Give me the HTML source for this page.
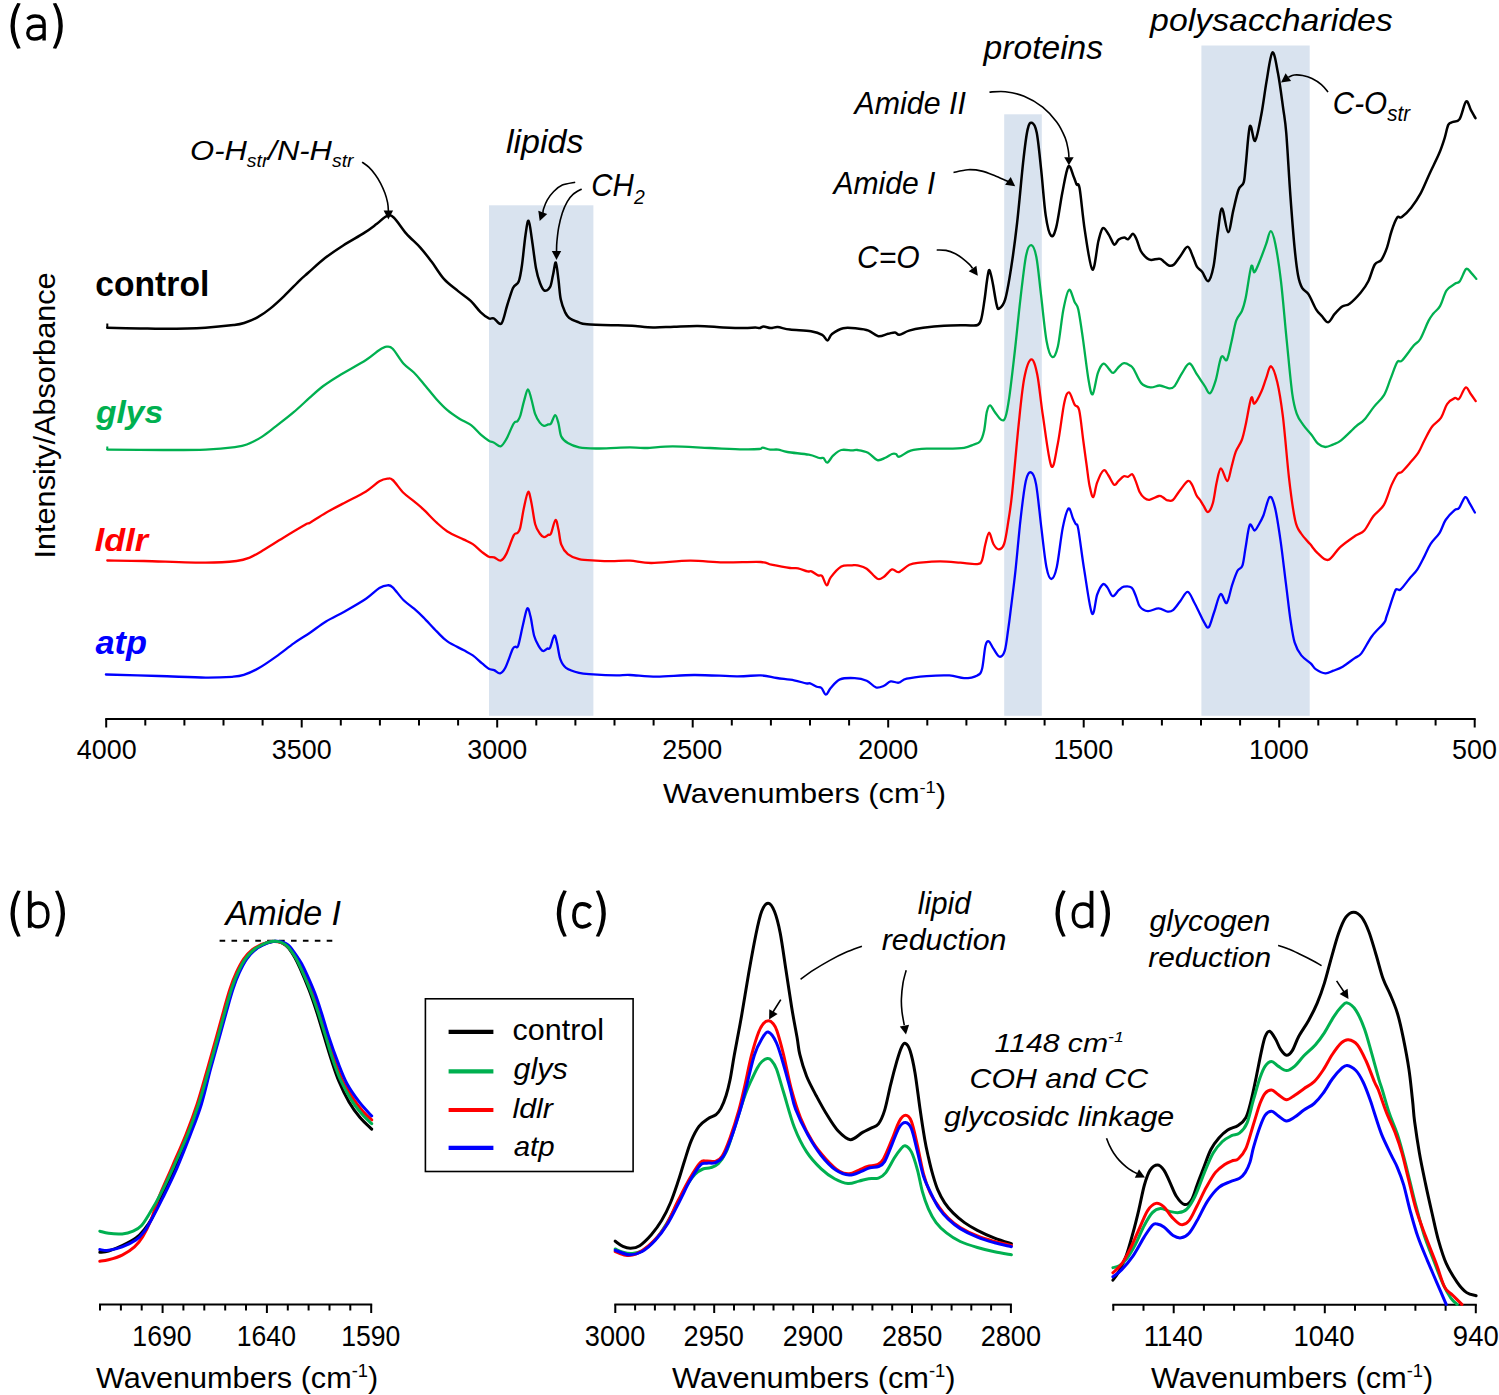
<!DOCTYPE html>
<html><head><meta charset="utf-8"><style>
html,body{margin:0;padding:0;background:#fff;overflow:hidden;}
svg{display:block;}
text{font-family:"Liberation Sans",sans-serif;}
</style></head><body>
<svg width="1499" height="1395" viewBox="0 0 1499 1395">
<rect width="1499" height="1395" fill="#fff"/>
<rect x="489" y="205.3" width="104.4" height="510.5" fill="#d9e3ef"/>
<rect x="1004.2" y="114.3" width="37.6" height="601.5" fill="#d9e3ef"/>
<rect x="1201.4" y="45.5" width="108.3" height="670.3" fill="#d9e3ef"/>
<path d="M105.2,719.0 H1475.7" stroke="#000" stroke-width="2.0" fill="none"/>
<path d="M106.2,719.0 V727.5M145.3,719.0 V725.5M184.4,719.0 V725.5M223.5,719.0 V725.5M262.6,719.0 V725.5M301.7,719.0 V727.5M340.8,719.0 V725.5M379.9,719.0 V725.5M419.0,719.0 V725.5M458.1,719.0 V725.5M497.2,719.0 V727.5M536.3,719.0 V725.5M575.4,719.0 V725.5M614.5,719.0 V725.5M653.6,719.0 V725.5M692.7,719.0 V727.5M731.8,719.0 V725.5M770.9,719.0 V725.5M810.0,719.0 V725.5M849.1,719.0 V725.5M888.2,719.0 V727.5M927.3,719.0 V725.5M966.4,719.0 V725.5M1005.5,719.0 V725.5M1044.6,719.0 V725.5M1083.7,719.0 V727.5M1122.8,719.0 V725.5M1161.9,719.0 V725.5M1201.0,719.0 V725.5M1240.1,719.0 V725.5M1279.2,719.0 V727.5M1318.3,719.0 V725.5M1357.4,719.0 V725.5M1396.5,719.0 V725.5M1435.6,719.0 V725.5M1474.7,719.0 V727.5" stroke="#000" stroke-width="2.0" fill="none"/>
<path d="M99.0,1304.6 H372.2" stroke="#000" stroke-width="2.0" fill="none"/>
<path d="M100.0,1304.6 V1310.6M120.9,1304.6 V1310.6M141.7,1304.6 V1310.6M162.6,1304.6 V1313.1M183.4,1304.6 V1310.6M204.3,1304.6 V1310.6M225.2,1304.6 V1310.6M246.0,1304.6 V1310.6M266.9,1304.6 V1313.1M287.8,1304.6 V1310.6M308.6,1304.6 V1310.6M329.5,1304.6 V1310.6M350.3,1304.6 V1310.6M371.2,1304.6 V1313.1" stroke="#000" stroke-width="2.0" fill="none"/>
<path d="M219.6,940.8 H334" stroke="#000" stroke-width="2" stroke-dasharray="5.6 6.3" fill="none"/>
<path d="M614.3,1304.6 H1011.9" stroke="#000" stroke-width="2.0" fill="none"/>
<path d="M615.3,1304.6 V1313.1M635.1,1304.6 V1310.6M654.9,1304.6 V1310.6M674.6,1304.6 V1310.6M694.4,1304.6 V1310.6M714.2,1304.6 V1313.1M734.0,1304.6 V1310.6M753.8,1304.6 V1310.6M773.5,1304.6 V1310.6M793.3,1304.6 V1310.6M813.1,1304.6 V1313.1M832.9,1304.6 V1310.6M852.7,1304.6 V1310.6M872.4,1304.6 V1310.6M892.2,1304.6 V1310.6M912.0,1304.6 V1313.1M931.8,1304.6 V1310.6M951.6,1304.6 V1310.6M971.3,1304.6 V1310.6M991.1,1304.6 V1310.6M1010.9,1304.6 V1313.1" stroke="#000" stroke-width="2.0" fill="none"/>
<rect x="425.4" y="998.8" width="207.7" height="172.7" fill="#fff" stroke="#000" stroke-width="1.6"/>
<path d="M448.6,1031.8 H493.4" stroke="#000000" stroke-width="4.2"/>
<path d="M448.6,1071.4 H493.4" stroke="#00b050" stroke-width="4.2"/>
<path d="M448.6,1110.0 H493.4" stroke="#ff0000" stroke-width="4.2"/>
<path d="M448.6,1147.8 H493.4" stroke="#0000ff" stroke-width="4.2"/>
<path d="M1112.3,1304.8 H1476.8" stroke="#000" stroke-width="2.0" fill="none"/>
<path d="M1113.3,1304.8 V1310.8M1143.5,1304.8 V1310.8M1173.7,1304.8 V1313.3M1203.9,1304.8 V1310.8M1234.1,1304.8 V1310.8M1264.3,1304.8 V1310.8M1294.5,1304.8 V1310.8M1324.8,1304.8 V1313.3M1355.0,1304.8 V1310.8M1385.2,1304.8 V1310.8M1415.4,1304.8 V1310.8M1445.6,1304.8 V1310.8M1475.8,1304.8 V1313.3" stroke="#000" stroke-width="2.0" fill="none"/>
<path d="M107.3,323.5 V328" stroke="#000" stroke-width="2"/>
<path d="M107.3,327.8C112.8,327.9 130.3,328.2 140.0,328.4C149.7,328.6 154.5,328.9 165.4,328.8C176.3,328.7 194.1,328.3 205.4,327.7C216.7,327.1 227.0,325.9 233.4,325.1C239.8,324.3 240.1,324.3 244.1,323.0C248.1,321.7 252.9,319.9 257.4,317.4C261.8,314.9 266.4,311.7 270.8,308.1C275.2,304.6 279.2,300.8 284.1,296.1C289.0,291.4 296.0,284.0 300.0,280.1C304.0,276.2 304.0,276.5 308.2,272.8C312.4,269.1 319.2,262.7 325.0,258.1C330.8,253.6 336.7,249.7 343.2,245.5C349.7,241.3 358.6,236.5 364.2,232.9C369.8,229.3 373.1,226.6 376.9,223.8C380.6,221.0 383.9,217.2 386.7,216.1C389.5,215.0 390.4,214.6 393.7,217.5C397.0,220.4 401.9,228.6 406.3,233.6C410.7,238.6 416.1,242.9 420.3,247.6C424.5,252.3 427.5,256.3 431.5,261.6C435.5,266.9 439.7,274.3 444.1,279.2C448.5,284.1 453.7,287.5 458.1,291.1C462.5,294.7 467.0,297.4 470.7,300.9C474.4,304.4 477.5,309.2 480.5,312.1C483.5,315.0 486.7,317.3 488.9,318.4C491.1,319.4 491.7,317.5 493.8,318.4C495.9,319.2 499.2,325.6 501.4,323.5C503.6,321.4 505.1,311.9 507.0,306.0C508.9,300.1 511.1,292.1 513.0,288.0C515.0,283.9 517.2,285.3 518.7,281.5C520.2,277.7 520.9,272.8 522.0,265.0C523.1,257.2 524.4,242.4 525.5,235.0C526.6,227.6 527.5,220.0 528.6,220.8C529.7,221.6 530.8,232.1 532.0,240.0C533.2,247.9 534.7,261.1 536.0,268.3C537.3,275.5 538.6,279.3 540.0,283.0C541.4,286.7 542.6,289.8 544.3,290.5C546.0,291.2 548.5,289.8 550.0,287.2C551.5,284.6 552.0,279.1 553.0,275.0C554.0,270.9 554.9,261.7 555.8,262.5C556.7,263.3 557.7,273.8 558.5,280.0C559.3,286.2 559.7,294.3 560.8,299.6C561.9,304.9 563.6,309.0 565.0,312.0C566.4,315.0 566.8,316.0 569.0,317.7C571.2,319.4 575.0,320.9 578.0,322.0C581.0,323.1 580.3,323.8 587.0,324.3C593.7,324.9 610.5,325.1 618.0,325.3C625.5,325.5 626.2,325.4 632.0,325.7C637.8,326.0 646.0,327.2 653.0,327.4C660.0,327.6 666.5,326.9 674.0,326.7C681.5,326.4 689.7,325.8 697.9,325.9C706.1,326.0 715.4,327.0 723.1,327.4C730.8,327.8 738.7,328.1 744.1,328.1C749.5,328.1 752.7,327.5 755.3,327.5C757.9,327.5 758.1,328.3 759.5,328.1C760.9,327.9 761.8,326.4 763.7,326.4C765.6,326.4 768.4,328.0 770.7,328.1C773.0,328.2 774.5,326.9 777.7,327.1C780.9,327.4 784.5,328.9 790.0,329.6C795.5,330.3 805.6,330.4 811.0,331.3C816.4,332.2 819.5,333.3 822.2,334.8C825.0,336.3 825.9,340.5 827.5,340.4C829.1,340.3 829.4,336.1 832.0,334.1C834.6,332.1 839.0,329.1 843.2,328.2C847.4,327.3 853.0,328.1 857.2,328.5C861.4,328.9 865.0,329.3 868.5,330.6C872.0,331.9 875.0,335.7 878.3,336.2C881.6,336.7 885.3,334.4 888.1,333.8C890.9,333.2 893.2,332.2 895.1,332.4C897.0,332.6 897.0,335.1 899.3,334.8C901.6,334.5 905.1,331.8 909.1,330.6C913.1,329.4 917.3,328.6 923.1,327.8C928.9,327.0 937.1,326.1 944.1,325.7C951.1,325.3 959.5,325.3 965.1,325.2C970.7,325.1 975.0,326.2 977.7,325.0C980.4,323.8 980.4,322.2 981.5,318.0C982.6,313.8 983.6,306.0 984.5,300.0C985.4,294.0 986.1,286.9 986.8,282.0C987.5,277.1 988.2,271.5 988.9,270.3C989.6,269.1 990.3,272.6 991.0,275.0C991.7,277.4 992.2,280.1 993.1,285.0C994.0,289.9 995.6,300.7 996.6,304.6C997.6,308.6 997.6,309.5 999.0,308.7C1000.4,307.9 1003.1,306.5 1005.1,299.7C1007.1,292.9 1009.1,280.9 1011.1,268.1C1013.1,255.3 1015.1,240.5 1017.1,222.9C1019.1,205.3 1021.4,178.2 1023.1,162.7C1024.8,147.1 1026.1,136.2 1027.6,129.6C1029.0,122.9 1030.3,122.3 1031.8,122.8C1033.3,123.3 1035.1,124.7 1036.7,132.6C1038.3,140.5 1039.7,156.4 1041.2,170.2C1042.7,184.0 1044.1,204.5 1045.7,215.4C1047.3,226.3 1049.2,233.7 1051.0,235.7C1052.8,237.7 1054.3,234.6 1056.2,227.4C1058.1,220.2 1060.3,203.0 1062.3,192.8C1064.3,182.7 1066.4,169.3 1068.3,166.5C1070.2,163.7 1072.1,173.2 1073.5,176.2C1074.9,179.2 1075.6,182.5 1076.6,184.5C1077.6,186.5 1078.2,180.7 1079.6,188.3C1081.0,196.0 1082.7,216.8 1084.8,230.4C1086.9,244.0 1090.1,267.8 1092.4,269.6C1094.7,271.4 1096.7,247.9 1098.4,241.0C1100.2,234.1 1101.2,229.2 1102.9,228.2C1104.7,227.2 1107.0,232.2 1108.9,234.9C1110.8,237.7 1112.6,243.9 1114.2,244.7C1115.8,245.5 1117.0,240.7 1118.7,239.5C1120.4,238.3 1122.6,237.6 1124.2,237.5C1125.8,237.4 1126.8,239.7 1128.3,239.1C1129.8,238.5 1131.5,233.6 1132.9,233.7C1134.3,233.8 1135.3,236.6 1136.6,239.5C1137.9,242.4 1139.1,247.9 1140.8,251.0C1142.5,254.1 1145.3,256.8 1147.0,258.3C1148.7,259.8 1149.1,259.8 1151.2,259.9C1153.3,260.0 1157.4,258.4 1159.5,258.7C1161.6,258.9 1162.0,260.3 1163.6,261.4C1165.1,262.5 1167.1,265.0 1168.8,265.5C1170.5,266.0 1172.1,266.1 1174.0,264.5C1175.9,262.9 1178.0,259.1 1180.3,256.2C1182.6,253.2 1185.5,246.8 1187.6,246.8C1189.7,246.8 1191.2,252.9 1192.7,256.2C1194.2,259.5 1195.3,264.0 1196.9,266.6C1198.5,269.2 1200.2,269.4 1202.1,271.8C1204.0,274.2 1206.4,282.0 1208.3,281.1C1210.2,280.2 1211.9,274.6 1213.5,266.6C1215.1,258.6 1216.3,243.0 1217.7,233.3C1219.1,223.6 1220.2,208.6 1221.9,208.4C1223.6,208.2 1226.2,232.0 1228.1,232.3C1230.0,232.6 1231.6,217.5 1233.3,210.4C1235.0,203.3 1236.8,194.4 1238.5,189.7C1240.2,185.0 1242.5,186.6 1243.7,182.4C1244.9,178.2 1244.8,174.0 1245.8,164.7C1246.8,155.3 1248.4,130.3 1249.9,126.3C1251.5,122.3 1253.2,142.7 1255.1,140.8C1257.0,138.9 1259.4,124.7 1261.3,114.8C1263.2,104.9 1264.7,92.0 1266.5,81.6C1268.3,71.2 1270.5,53.9 1272.4,52.5C1274.3,51.1 1276.2,64.0 1278.0,73.3C1279.8,82.6 1281.8,98.6 1283.2,108.6C1284.6,118.6 1285.1,119.0 1286.3,133.5C1287.5,148.1 1289.0,176.8 1290.4,195.9C1291.8,215.0 1293.3,234.7 1294.6,247.9C1295.9,261.1 1296.8,268.4 1298.0,275.0C1299.2,281.6 1300.3,284.6 1302.1,287.8C1303.9,291.0 1306.3,290.8 1308.6,294.4C1310.9,298.0 1313.9,305.7 1316.1,309.3C1318.3,312.9 1319.7,313.6 1321.7,315.8C1323.7,318.0 1326.0,322.6 1328.2,322.3C1330.4,322.0 1332.4,316.5 1334.7,313.9C1337.0,311.3 1339.7,308.2 1342.2,306.5C1344.7,304.8 1346.5,306.0 1349.6,303.7C1352.7,301.4 1357.7,296.2 1360.8,292.5C1363.9,288.8 1366.0,286.0 1368.3,281.3C1370.6,276.6 1372.6,268.1 1374.8,264.5C1377.0,260.9 1379.3,262.7 1381.3,259.9C1383.3,257.1 1385.2,252.6 1386.9,247.8C1388.6,243.0 1389.9,236.0 1391.6,231.0C1393.3,226.0 1395.5,219.9 1397.2,217.6C1398.9,215.3 1399.5,218.7 1401.8,217.0C1404.1,215.3 1408.1,211.6 1411.2,207.7C1414.3,203.8 1417.4,199.4 1420.5,193.7C1423.6,187.9 1426.7,179.9 1429.8,173.2C1432.9,166.5 1436.6,159.5 1439.1,153.6C1441.6,147.7 1443.2,142.6 1444.7,137.8C1446.2,133.0 1447.0,127.4 1448.4,124.7C1449.8,122.0 1451.2,122.8 1453.1,121.9C1455.0,121.0 1457.4,122.5 1459.6,119.1C1461.8,115.7 1464.2,103.0 1466.1,101.4C1468.0,99.9 1469.2,107.0 1470.8,109.8C1472.4,112.6 1474.7,116.8 1475.5,118.2" stroke="#000000" stroke-width="2.50" fill="none" stroke-linejoin="round" stroke-linecap="round"/>
<path d="M107.3,446.5 V450" stroke="#00b050" stroke-width="2"/>
<path d="M107.3,449.6C116.6,449.7 146.7,450.0 163.1,450.0C179.5,450.0 193.7,450.1 205.7,449.6C217.7,449.1 228.2,448.0 235.0,447.1C241.8,446.2 242.4,446.2 246.8,444.5C251.2,442.8 256.5,440.2 261.4,437.1C266.3,434.0 270.7,430.2 276.1,426.1C281.5,422.0 288.1,417.0 293.7,412.2C299.3,407.4 305.1,401.8 310.0,397.4C314.9,393.0 318.4,389.7 323.3,386.0C328.2,382.3 332.3,379.7 339.4,375.4C346.5,371.1 359.3,364.2 366.0,360.0C372.7,355.8 375.9,352.2 379.4,350.0C382.8,347.8 384.5,346.9 386.7,346.7C388.9,346.5 389.9,345.9 392.7,348.7C395.5,351.5 399.8,359.4 403.4,363.4C407.0,367.4 410.8,369.4 414.1,372.7C417.4,376.0 419.6,378.9 423.4,383.4C427.2,387.8 432.7,394.9 436.7,399.4C440.7,403.8 443.6,406.9 447.4,410.1C451.2,413.3 455.4,416.1 459.4,418.7C463.4,421.2 467.8,422.7 471.4,425.4C475.0,428.1 477.9,432.1 480.8,434.7C483.7,437.2 486.6,439.4 488.8,440.7C491.0,442.0 492.1,441.8 494.1,442.7C496.1,443.6 498.6,446.9 500.6,446.4C502.6,445.8 504.0,443.2 506.2,439.4C508.4,435.6 511.8,426.5 513.7,423.5C515.6,420.5 516.3,422.4 517.4,421.2C518.5,419.9 519.1,419.4 520.2,416.0C521.3,412.6 522.7,405.5 524.0,401.1C525.3,396.7 526.7,389.7 527.9,389.4C529.1,389.1 530.2,395.1 531.4,399.2C532.6,403.3 533.8,410.3 535.2,414.2C536.6,418.1 538.3,420.7 539.8,422.6C541.3,424.5 542.6,425.5 544.0,425.8C545.4,426.1 547.0,424.8 548.2,424.4C549.4,424.0 549.8,425.1 551.0,423.5C552.2,421.9 554.0,415.1 555.2,415.1C556.5,415.1 557.5,419.9 558.5,423.5C559.5,427.1 559.8,433.3 561.3,436.6C562.8,439.9 564.8,441.3 567.8,443.1C570.8,444.9 574.4,446.4 579.1,447.3C583.8,448.2 589.7,448.4 595.9,448.5C602.1,448.6 610.7,448.0 616.4,447.8C622.1,447.6 625.1,447.4 630.0,447.4C634.9,447.4 638.9,448.2 646.0,448.0C653.1,447.8 662.0,446.3 672.7,446.3C683.4,446.3 698.2,447.5 710.0,448.0C721.8,448.5 735.2,449.2 743.4,449.4C751.6,449.6 756.2,449.3 759.4,449.0C762.6,448.7 761.0,447.5 762.8,447.6C764.6,447.7 767.5,449.3 770.1,449.6C772.7,449.9 775.2,449.2 778.1,449.6C781.0,450.0 782.3,451.1 787.4,452.0C792.5,452.9 803.4,453.7 808.8,454.7C814.1,455.7 817.0,457.4 819.5,458.0C822.0,458.6 822.2,457.2 823.5,458.0C824.8,458.8 825.7,463.1 827.3,462.7C828.9,462.3 831.0,457.5 833.3,455.4C835.6,453.3 838.2,450.8 841.3,450.0C844.4,449.2 849.3,450.4 852.0,450.4C854.7,450.4 854.7,449.6 857.4,450.0C860.1,450.4 864.7,451.0 868.0,452.7C871.3,454.4 874.5,459.3 877.4,460.1C880.3,460.9 883.0,458.7 885.4,457.7C887.8,456.7 890.2,454.6 892.0,454.0C893.8,453.4 894.8,453.6 896.0,454.0C897.2,454.4 896.9,457.2 899.4,456.7C901.9,456.1 906.2,452.0 910.7,450.7C915.2,449.4 920.7,449.0 926.7,448.7C932.7,448.4 940.5,448.8 946.7,448.7C952.9,448.6 959.7,448.5 964.1,447.8C968.5,447.1 970.7,445.8 973.4,444.7C976.1,443.6 978.3,443.7 980.1,441.4C981.9,439.1 983.0,435.6 984.1,430.7C985.2,425.8 985.8,416.2 986.8,412.0C987.8,407.8 988.8,405.4 990.1,405.4C991.4,405.4 992.9,409.6 994.8,412.0C996.7,414.4 999.7,419.2 1001.5,420.0C1003.3,420.8 1004.2,420.8 1005.5,417.0C1006.8,413.2 1007.7,408.2 1009.3,397.1C1010.9,386.0 1013.0,367.0 1014.9,350.5C1016.8,334.0 1018.6,314.2 1020.5,298.3C1022.4,282.4 1024.3,264.2 1026.1,255.4C1027.9,246.6 1029.6,244.9 1031.3,245.2C1033.0,245.5 1034.8,249.1 1036.4,257.3C1038.0,265.5 1039.3,280.6 1041.0,294.6C1042.7,308.6 1044.7,330.8 1046.6,341.2C1048.5,351.6 1050.3,356.1 1052.2,357.0C1054.1,357.9 1055.9,354.7 1057.8,346.8C1059.7,338.9 1061.5,319.0 1063.4,309.5C1065.3,300.0 1067.1,291.1 1069.0,289.9C1070.9,288.6 1073.0,298.7 1074.6,302.0C1076.1,305.3 1076.9,303.3 1078.3,309.5C1079.7,315.7 1081.3,327.5 1083.0,339.3C1084.7,351.1 1087.0,371.1 1088.6,380.3C1090.2,389.5 1091.2,395.5 1092.7,394.3C1094.2,393.1 1096.1,378.0 1097.9,372.9C1099.7,367.8 1101.6,364.2 1103.5,363.6C1105.4,363.0 1107.5,367.6 1109.1,369.1C1110.7,370.7 1111.6,373.4 1113.3,372.9C1115.0,372.4 1117.5,367.9 1119.3,366.3C1121.1,364.7 1122.2,363.4 1124.0,363.2C1125.8,363.0 1128.4,364.4 1130.0,365.4C1131.6,366.4 1131.8,366.2 1133.7,369.1C1135.6,372.1 1138.4,380.1 1141.2,383.1C1144.0,386.2 1147.4,387.0 1150.5,387.4C1153.6,387.8 1156.7,385.4 1159.8,385.5C1162.9,385.6 1166.6,388.2 1169.1,388.3C1171.6,388.4 1172.5,388.5 1174.7,385.9C1176.9,383.3 1179.7,376.5 1182.2,372.8C1184.7,369.1 1187.1,363.2 1189.6,363.5C1192.1,363.8 1194.6,371.0 1197.1,374.7C1199.6,378.4 1202.4,382.8 1204.6,385.9C1206.8,389.0 1208.2,394.2 1210.1,393.3C1211.9,392.4 1213.8,386.4 1215.7,380.3C1217.6,374.2 1219.4,360.4 1221.3,357.0C1223.2,353.6 1225.2,362.4 1226.9,359.8C1228.6,357.2 1230.0,347.7 1231.6,341.2C1233.1,334.7 1234.5,325.7 1236.2,320.7C1237.9,315.7 1240.2,315.0 1241.8,311.3C1243.4,307.6 1244.0,305.8 1245.6,298.3C1247.2,290.9 1249.7,271.0 1251.2,266.6C1252.7,262.2 1253.0,273.4 1254.5,272.2C1256.0,270.9 1258.6,263.8 1260.5,259.1C1262.4,254.4 1264.4,248.8 1266.1,244.2C1267.8,239.5 1269.2,231.2 1270.7,231.2C1272.2,231.2 1273.7,235.8 1275.4,244.2C1277.1,252.6 1279.1,265.6 1281.0,281.5C1282.9,297.4 1284.7,320.7 1286.6,339.3C1288.5,357.9 1290.5,380.9 1292.2,393.3C1293.9,405.7 1295.0,408.6 1296.8,413.8C1298.6,419.1 1300.8,421.3 1303.2,424.8C1305.6,428.3 1308.9,431.6 1311.4,434.7C1313.9,437.8 1315.7,441.6 1318.0,443.7C1320.3,445.8 1322.9,446.9 1325.4,447.0C1327.9,447.1 1330.3,445.7 1332.9,444.6C1335.5,443.5 1337.2,443.4 1341.1,440.4C1344.9,437.4 1352.2,429.8 1356.0,426.4C1359.8,423.0 1361.2,423.1 1364.2,419.8C1367.2,416.5 1370.8,410.7 1374.1,406.6C1377.4,402.5 1381.2,399.8 1384.0,395.1C1386.8,390.4 1388.4,384.1 1390.6,378.6C1392.8,373.1 1395.3,365.1 1397.2,362.1C1399.1,359.1 1399.3,363.2 1402.1,360.5C1404.8,357.8 1410.7,349.2 1413.7,345.6C1416.7,342.0 1417.8,343.1 1420.3,339.0C1422.8,334.9 1426.3,325.1 1428.5,320.9C1430.7,316.6 1431.5,316.0 1433.4,313.5C1435.3,311.0 1437.8,310.0 1440.0,306.1C1442.2,302.2 1444.1,294.1 1446.6,290.4C1449.1,286.7 1452.7,285.3 1454.9,283.8C1457.1,282.3 1457.9,283.8 1459.8,281.3C1461.7,278.8 1464.2,270.4 1466.1,269.0C1468.0,267.6 1469.7,271.5 1471.4,273.1C1473.1,274.8 1475.5,277.9 1476.3,278.9" stroke="#00b050" stroke-width="2.30" fill="none" stroke-linejoin="round" stroke-linecap="round"/>
<path d="M107.3,560.5C113.4,560.6 127.6,560.6 144.0,561.0C160.4,561.4 190.3,562.7 205.7,562.7C221.1,562.7 229.2,561.9 236.5,561.0C243.8,560.1 245.0,559.5 249.7,557.6C254.3,555.7 258.8,552.8 264.4,549.5C270.0,546.2 276.5,541.9 283.4,537.8C290.2,533.6 301.1,527.1 305.5,524.6C309.9,522.1 306.6,524.7 310.0,522.7C313.4,520.7 320.2,516.0 326.0,512.7C331.8,509.4 338.0,506.2 344.7,502.7C351.4,499.1 360.2,495.0 366.0,491.4C371.8,487.8 375.8,483.4 379.4,481.3C383.0,479.2 385.2,478.9 387.4,478.7C389.6,478.5 390.0,477.7 392.7,480.0C395.4,482.3 399.8,489.1 403.4,492.7C407.0,496.3 410.8,498.6 414.1,501.4C417.4,504.2 419.6,505.8 423.4,509.4C427.2,513.0 432.7,519.0 436.7,522.7C440.7,526.4 442.9,528.6 447.4,531.4C451.8,534.2 459.2,537.3 463.4,539.4C467.6,541.5 469.7,542.0 472.8,544.1C475.9,546.2 479.4,550.0 482.1,552.1C484.8,554.2 486.8,555.8 488.8,556.7C490.8,557.6 492.1,556.8 494.1,557.4C496.1,558.0 498.6,561.1 500.6,560.6C502.6,560.1 504.0,558.3 506.2,554.1C508.4,549.9 511.8,538.9 513.7,535.4C515.6,531.9 516.3,534.2 517.4,533.0C518.5,531.8 519.1,532.2 520.2,527.9C521.3,523.6 522.7,513.4 524.0,507.4C525.3,501.4 527.0,492.7 528.2,491.9C529.4,491.1 530.2,497.3 531.4,502.7C532.6,508.1 533.8,519.1 535.2,524.2C536.6,529.3 538.3,531.3 539.8,533.5C541.3,535.7 542.6,537.0 544.0,537.2C545.4,537.4 547.0,535.5 548.2,534.9C549.4,534.3 549.8,536.0 551.0,533.5C552.2,531.0 554.2,520.6 555.5,520.0C556.8,519.4 557.5,525.7 558.5,529.8C559.5,533.9 559.8,540.7 561.3,544.7C562.8,548.8 564.8,551.7 567.8,554.1C570.8,556.5 574.4,558.1 579.1,559.2C583.8,560.3 590.5,560.3 595.9,560.6C601.3,560.9 606.0,561.1 611.7,561.1C617.4,561.1 623.4,560.4 630.0,560.7C636.6,561.0 641.3,563.0 651.3,563.0C661.3,563.0 678.0,560.8 690.0,560.7C702.0,560.6 711.6,562.2 723.4,562.4C735.2,562.6 752.8,561.6 760.8,562.0C768.8,562.4 766.5,563.7 771.4,564.7C776.3,565.7 785.6,567.4 790.1,568.0C794.6,568.6 795.2,567.7 798.1,568.3C801.0,568.9 805.3,570.9 807.5,571.4C809.7,571.9 809.7,570.7 811.5,571.4C813.3,572.1 816.3,574.6 818.1,575.4C819.9,576.2 820.7,574.3 822.1,576.0C823.5,577.7 825.4,585.2 826.8,585.4C828.2,585.6 828.3,580.5 830.7,577.4C833.1,574.2 837.8,568.5 841.3,566.5C844.8,564.5 849.3,565.6 852.0,565.4C854.7,565.2 854.9,564.8 857.4,565.4C859.9,566.0 863.4,566.5 866.7,568.7C870.0,570.9 874.5,577.4 877.4,578.7C880.3,580.0 881.6,578.2 884.0,576.7C886.4,575.2 889.5,570.2 892.0,569.4C894.5,568.6 895.8,572.9 898.7,572.1C901.6,571.3 905.8,566.3 909.4,564.7C913.0,563.1 915.0,563.2 920.1,562.7C925.2,562.2 933.4,561.4 940.1,561.4C946.8,561.4 953.9,562.2 960.1,562.7C966.3,563.2 973.7,564.6 977.4,564.1C981.1,563.6 980.8,563.4 982.1,560.0C983.4,556.6 984.2,548.5 985.4,544.0C986.6,539.5 987.9,532.7 989.2,532.7C990.5,532.7 991.8,541.2 993.4,544.0C995.0,546.8 997.0,549.4 998.8,549.4C1000.6,549.4 1002.5,548.5 1004.1,544.0C1005.7,539.5 1006.8,531.2 1008.1,522.7C1009.4,514.2 1010.4,509.6 1012.1,493.3C1013.9,477.0 1016.6,444.2 1018.6,425.1C1020.6,406.0 1022.1,389.4 1024.2,378.5C1026.3,367.6 1029.1,360.0 1031.3,359.4C1033.5,358.8 1035.4,365.3 1037.3,374.7C1039.2,384.1 1040.6,400.5 1042.9,415.7C1045.2,430.9 1048.8,461.4 1051.3,466.1C1053.8,470.8 1055.6,454.3 1057.8,443.7C1060.0,433.1 1062.4,411.2 1064.3,402.7C1066.2,394.1 1067.3,392.1 1069.0,392.4C1070.7,392.7 1072.9,401.6 1074.6,404.6C1076.3,407.6 1077.8,404.3 1079.2,410.2C1080.6,416.1 1082.0,431.1 1083.2,440.0C1084.4,448.9 1085.3,455.9 1086.4,463.5C1087.5,471.1 1088.4,480.3 1089.6,485.9C1090.8,491.5 1092.0,497.6 1093.3,497.1C1094.5,496.6 1095.4,487.1 1097.1,482.7C1098.8,478.2 1101.6,471.6 1103.5,470.4C1105.4,469.1 1106.5,472.8 1108.3,475.2C1110.1,477.6 1112.5,483.8 1114.2,484.8C1115.9,485.8 1116.8,482.5 1118.4,481.1C1120.0,479.7 1122.2,477.0 1123.8,476.3C1125.4,475.6 1126.6,477.2 1128.0,476.8C1129.4,476.4 1131.0,473.6 1132.3,474.2C1133.5,474.8 1134.2,477.6 1135.5,480.6C1136.8,483.6 1138.4,489.5 1139.8,492.3C1141.2,495.1 1142.4,496.4 1144.0,497.6C1145.6,498.9 1146.9,500.1 1149.4,499.8C1151.9,499.5 1156.7,496.4 1159.0,496.0C1161.3,495.6 1161.9,496.9 1163.3,497.6C1164.7,498.3 1165.9,499.9 1167.5,500.3C1169.1,500.7 1170.9,501.5 1172.9,500.0C1174.9,498.5 1176.8,494.3 1179.3,491.2C1181.8,488.1 1185.7,482.2 1187.8,481.1C1189.9,480.0 1190.7,482.5 1192.1,484.8C1193.5,487.1 1194.9,492.3 1196.3,495.0C1197.7,497.7 1199.3,498.9 1200.6,500.8C1201.8,502.7 1202.5,504.3 1203.8,506.2C1205.0,508.1 1206.6,512.5 1208.1,512.0C1209.6,511.5 1211.5,507.9 1212.9,503.0C1214.3,498.1 1215.3,488.5 1216.6,482.7C1217.9,476.9 1219.1,468.6 1220.9,468.3C1222.7,468.0 1225.5,481.4 1227.3,481.1C1229.1,480.8 1230.2,471.6 1231.6,466.7C1233.0,461.8 1234.1,456.1 1235.8,451.7C1237.5,447.2 1240.2,444.4 1241.8,440.0C1243.4,435.6 1244.0,432.0 1245.6,425.0C1247.2,418.0 1249.7,401.6 1251.2,398.0C1252.7,394.4 1252.8,404.7 1254.5,403.6C1256.2,402.5 1259.5,395.7 1261.4,391.5C1263.3,387.3 1264.5,382.6 1266.1,378.4C1267.7,374.2 1269.2,365.7 1271.1,366.3C1273.0,366.9 1275.3,374.0 1277.3,382.2C1279.2,390.4 1280.8,399.8 1282.8,415.7C1284.8,431.6 1287.0,460.4 1289.0,477.8C1291.0,495.2 1293.1,510.7 1295.1,520.0C1297.1,529.3 1298.6,529.5 1301.1,533.5C1303.6,537.5 1307.3,540.8 1310.1,544.1C1312.8,547.4 1314.6,550.5 1317.6,553.1C1320.6,555.7 1324.4,560.9 1328.2,559.9C1332.0,558.9 1335.7,551.1 1340.2,547.1C1344.7,543.1 1351.3,538.6 1355.3,535.8C1359.3,533.0 1361.3,533.8 1364.3,530.5C1367.3,527.2 1370.0,520.5 1373.3,516.2C1376.6,511.9 1380.9,510.0 1383.9,504.9C1386.9,499.8 1389.2,490.5 1391.4,485.4C1393.7,480.3 1395.7,476.4 1397.4,474.1C1399.2,471.8 1399.9,473.6 1401.9,471.8C1403.9,470.0 1406.7,466.8 1409.5,463.5C1412.3,460.2 1416.0,456.2 1418.5,452.3C1421.0,448.4 1422.2,444.5 1424.5,440.2C1426.8,435.9 1429.2,430.5 1432.0,426.7C1434.8,422.9 1438.6,421.4 1441.1,417.6C1443.6,413.8 1444.8,407.4 1447.1,404.1C1449.3,400.9 1452.6,399.0 1454.6,398.1C1456.6,397.2 1457.3,400.6 1459.1,398.8C1460.9,397.0 1463.7,388.4 1465.6,387.5C1467.5,386.6 1468.7,391.2 1470.4,393.5C1472.1,395.8 1474.8,399.8 1475.7,401.1" stroke="#ff0000" stroke-width="2.30" fill="none" stroke-linejoin="round" stroke-linecap="round"/>
<path d="M105.9,674.5C114.7,674.8 142.1,675.5 158.7,676.0C175.3,676.5 193.5,677.5 205.7,677.6C217.9,677.7 225.8,677.2 232.1,676.8C238.4,676.3 239.4,676.3 243.8,674.9C248.2,673.5 253.1,671.3 258.5,668.3C263.9,665.2 270.2,660.8 276.1,656.6C282.0,652.5 288.1,647.4 293.7,643.4C299.3,639.4 304.6,636.4 310.0,632.7C315.4,629.0 320.2,625.0 326.0,621.4C331.8,617.8 338.0,615.2 344.7,611.4C351.4,607.6 360.2,602.6 366.0,598.7C371.8,594.8 375.8,590.2 379.4,588.0C383.0,585.8 385.2,585.4 387.4,585.3C389.6,585.2 390.0,584.8 392.7,587.3C395.4,589.8 399.8,596.4 403.4,600.0C407.0,603.6 410.8,605.8 414.1,608.7C417.4,611.6 419.6,613.6 423.4,617.4C427.2,621.2 432.7,627.4 436.7,631.4C440.7,635.4 442.9,638.3 447.4,641.4C451.8,644.5 459.2,647.8 463.4,650.1C467.6,652.4 469.7,653.2 472.8,655.4C475.9,657.6 479.4,661.2 482.1,663.4C484.8,665.6 486.8,667.6 488.8,668.7C490.8,669.8 492.2,669.3 494.1,670.1C496.0,670.9 498.2,673.8 500.1,673.4C502.0,673.0 503.2,671.8 505.3,667.8C507.4,663.8 511.0,652.6 512.7,649.1C514.4,645.6 514.6,647.4 515.5,646.8C516.4,646.2 517.0,649.1 518.3,645.4C519.5,641.7 521.5,630.9 523.0,624.8C524.5,618.6 526.0,609.9 527.2,608.5C528.5,607.1 529.3,611.8 530.5,616.4C531.7,621.0 532.8,631.0 534.2,636.0C535.6,641.0 537.4,643.8 538.9,646.3C540.4,648.8 541.7,650.6 543.1,651.0C544.5,651.4 546.1,649.1 547.3,648.6C548.5,648.1 548.9,649.9 550.1,647.7C551.3,645.5 553.1,636.3 554.3,635.6C555.5,634.9 556.1,639.5 557.1,643.5C558.1,647.5 558.9,655.4 560.4,659.4C561.9,663.4 562.9,665.5 566.0,667.8C569.1,670.0 574.6,671.8 579.1,672.9C583.6,674.0 586.9,673.9 593.1,674.3C599.3,674.7 610.2,675.2 616.4,675.3C622.5,675.4 623.3,674.8 630.0,675.0C636.7,675.2 646.0,676.7 656.7,676.7C667.4,676.7 680.7,675.1 694.0,675.0C707.3,674.9 725.6,676.2 736.7,676.3C747.8,676.4 754.1,675.1 760.8,675.4C767.5,675.7 771.2,677.2 776.8,678.0C782.3,678.8 789.2,679.4 794.1,680.3C799.0,681.2 803.4,682.9 806.1,683.4C808.8,683.9 808.3,682.8 810.1,683.4C811.9,684.0 814.9,685.9 816.8,686.7C818.7,687.5 820.0,686.7 821.5,688.0C823.0,689.3 824.4,694.7 825.9,694.7C827.4,694.7 828.4,690.7 830.7,688.1C833.1,685.5 836.0,681.1 840.0,679.4C844.0,677.7 850.2,677.9 854.7,678.1C859.2,678.3 863.2,679.2 866.7,680.7C870.2,682.2 873.1,686.5 876.0,687.4C878.9,688.2 881.5,686.8 884.0,685.8C886.5,684.8 888.2,681.9 890.7,681.4C893.2,680.9 896.0,683.2 898.7,682.7C901.4,682.2 902.0,679.8 906.7,678.7C911.4,677.6 919.6,676.7 926.7,676.1C933.8,675.5 943.2,675.1 949.4,675.4C955.6,675.7 959.4,678.1 964.1,678.1C968.8,678.1 974.4,677.0 977.4,675.4C980.4,673.8 980.8,673.6 982.1,668.7C983.4,663.8 984.3,650.5 985.4,646.0C986.5,641.5 987.5,640.9 988.8,641.4C990.1,641.9 991.6,646.2 993.4,648.7C995.2,651.2 997.6,656.4 999.5,656.7C1001.4,657.0 1003.4,655.2 1004.8,650.7C1006.2,646.2 1007.2,636.2 1008.1,630.0C1009.0,623.8 1009.1,623.3 1010.3,613.4C1011.5,603.5 1013.8,586.2 1015.5,570.4C1017.2,554.6 1018.9,533.7 1020.6,518.8C1022.3,503.9 1024.1,488.7 1025.8,481.0C1027.5,473.3 1029.3,471.8 1031.0,472.4C1032.7,473.0 1034.4,475.2 1036.1,484.4C1037.8,493.6 1039.6,513.6 1041.3,527.4C1043.0,541.2 1044.7,558.4 1046.4,567.0C1048.1,575.6 1049.6,579.0 1051.3,579.0C1053.0,579.0 1054.9,575.6 1056.8,567.0C1058.7,558.4 1060.8,537.1 1062.8,527.4C1064.8,517.6 1066.8,509.9 1068.5,508.5C1070.2,507.1 1071.9,516.2 1073.1,518.8C1074.3,521.4 1074.8,522.3 1075.7,524.0C1076.6,525.7 1076.9,521.4 1078.3,529.1C1079.7,536.8 1082.0,556.4 1084.3,570.4C1086.6,584.4 1089.8,609.4 1092.0,613.4C1094.2,617.4 1095.4,599.4 1097.2,594.5C1099.0,589.6 1101.2,585.4 1102.9,584.2C1104.6,583.1 1105.9,585.6 1107.5,587.6C1109.1,589.6 1110.8,595.8 1112.7,596.2C1114.6,596.6 1116.9,591.8 1118.7,590.2C1120.5,588.6 1121.7,587.1 1123.8,586.7C1125.9,586.3 1129.6,586.0 1131.6,587.6C1133.6,589.2 1134.5,593.0 1135.9,596.2C1137.3,599.4 1137.9,604.1 1139.9,606.6C1141.9,609.1 1144.8,610.8 1147.9,611.1C1151.0,611.4 1155.4,608.3 1158.7,608.4C1162.0,608.5 1165.2,611.3 1167.6,611.6C1170.0,611.9 1170.9,611.9 1173.0,610.2C1175.1,608.5 1177.8,604.2 1180.2,601.2C1182.7,598.2 1185.3,591.6 1187.7,591.9C1190.1,592.2 1192.6,599.6 1194.5,603.0C1196.4,606.4 1197.4,608.7 1199.0,612.0C1200.6,615.3 1202.7,620.2 1204.3,622.7C1205.9,625.2 1207.1,629.0 1208.8,627.2C1210.5,625.4 1212.2,617.5 1214.2,612.0C1216.2,606.5 1218.4,595.6 1220.5,594.1C1222.6,592.6 1224.8,604.5 1226.7,603.0C1228.6,601.5 1230.3,590.5 1232.1,585.1C1233.9,579.7 1235.8,574.1 1237.5,570.8C1239.2,567.5 1241.2,569.3 1242.5,565.4C1243.8,561.5 1244.4,554.2 1245.6,547.5C1246.8,540.8 1248.2,527.9 1249.7,525.1C1251.2,522.3 1253.0,530.6 1254.5,530.5C1256.0,530.4 1257.5,526.8 1259.0,524.2C1260.5,521.7 1261.7,519.7 1263.5,515.2C1265.3,510.7 1267.8,498.2 1269.7,497.0C1271.6,495.8 1273.3,500.9 1275.1,508.1C1276.9,515.3 1278.7,527.8 1280.5,540.3C1282.3,552.8 1284.2,570.0 1285.9,583.3C1287.6,596.6 1289.0,610.1 1290.5,620.0C1292.0,629.9 1292.9,636.8 1294.7,642.7C1296.5,648.6 1298.6,652.0 1301.3,655.4C1304.0,658.8 1308.2,661.1 1310.7,663.4C1313.2,665.7 1313.5,667.7 1316.0,669.4C1318.5,671.1 1322.5,673.2 1325.4,673.4C1328.3,673.6 1330.5,671.8 1333.4,670.7C1336.3,669.6 1339.2,668.8 1342.7,666.7C1346.2,664.6 1351.6,660.3 1354.7,658.1C1357.8,655.9 1358.5,657.1 1361.4,653.4C1364.3,649.7 1368.3,641.1 1372.1,636.0C1375.9,630.9 1381.7,626.0 1384.1,622.7C1386.5,619.4 1384.9,621.1 1386.7,616.0C1388.5,610.9 1392.9,596.4 1394.7,592.0C1396.5,587.6 1396.4,589.8 1397.4,589.4C1398.4,589.0 1398.7,591.2 1400.7,589.4C1402.7,587.6 1406.6,582.1 1409.4,578.7C1412.2,575.4 1414.9,573.1 1417.4,569.3C1419.9,565.5 1422.3,560.3 1424.5,556.1C1426.7,551.9 1428.0,548.0 1430.5,544.1C1433.0,540.2 1437.1,536.8 1439.6,532.8C1442.1,528.8 1443.1,523.8 1445.6,520.0C1448.1,516.2 1452.3,512.2 1454.6,510.2C1456.8,508.2 1457.3,510.2 1459.1,508.0C1460.9,505.8 1463.4,497.9 1465.2,497.1C1467.0,496.3 1468.1,500.8 1469.7,503.4C1471.3,506.0 1474.0,511.0 1474.9,512.5" stroke="#0000ff" stroke-width="2.30" fill="none" stroke-linejoin="round" stroke-linecap="round"/>
<path d="M99.8,1252.3C101.3,1252.1 104.9,1252.1 108.6,1251.0C112.3,1249.9 117.7,1247.7 122.2,1245.5C126.8,1243.3 132.3,1240.6 135.9,1238.0C139.5,1235.4 141.3,1233.3 144.0,1229.9C146.7,1226.5 149.3,1223.1 152.2,1217.6C155.1,1212.1 157.7,1205.4 161.5,1197.0C165.3,1188.6 170.5,1177.3 175.0,1167.0C179.5,1156.7 184.4,1145.5 188.5,1135.0C192.6,1124.5 196.0,1115.0 199.5,1104.0C203.0,1093.0 206.4,1080.2 209.5,1069.2C212.6,1058.2 215.6,1047.7 218.3,1037.9C221.1,1028.1 223.7,1018.4 226.0,1010.3C228.3,1002.1 230.1,995.3 232.2,989.0C234.3,982.7 236.2,977.7 238.5,972.7C240.8,967.7 243.3,962.8 246.0,958.9C248.7,955.0 251.7,951.9 254.6,949.5C257.5,947.1 260.8,945.6 263.2,944.4C265.6,943.2 267.0,942.8 268.8,942.3C270.6,941.8 272.6,941.4 274.2,941.3C275.8,941.2 277.0,941.3 278.3,941.6C279.6,941.9 280.8,942.3 282.0,942.9C283.2,943.5 284.3,944.2 285.5,945.2C286.7,946.2 287.4,946.5 289.0,948.6C290.6,950.7 293.0,954.4 294.8,957.6C296.6,960.9 297.6,962.8 300.0,968.1C302.4,973.5 306.2,982.5 309.0,989.7C311.8,996.9 314.0,1003.6 316.5,1011.3C319.0,1019.0 321.5,1027.7 324.0,1035.9C326.5,1044.1 329.1,1053.0 331.6,1060.6C334.1,1068.2 336.1,1074.6 339.0,1081.5C341.9,1088.4 345.5,1096.0 349.0,1102.0C352.5,1108.0 356.2,1113.0 360.0,1117.5C363.8,1122.0 369.8,1127.2 371.7,1129.1" stroke="#000000" stroke-width="3.00" fill="none" stroke-linejoin="round" stroke-linecap="round"/>
<path d="M99.8,1261.2C101.3,1261.0 104.9,1260.8 108.6,1259.8C112.3,1258.8 117.9,1257.2 122.2,1255.1C126.5,1252.9 131.1,1250.0 134.5,1246.9C137.9,1243.8 140.0,1241.1 142.7,1236.7C145.4,1232.3 148.2,1226.9 150.9,1220.3C153.6,1213.7 155.4,1206.0 159.0,1197.0C162.6,1188.0 168.0,1176.4 172.5,1166.0C177.0,1155.6 181.9,1144.8 186.0,1134.5C190.1,1124.2 193.4,1115.4 197.0,1104.5C200.6,1093.6 204.2,1080.3 207.4,1069.2C210.6,1058.1 213.5,1047.7 216.2,1037.9C218.9,1028.1 221.5,1018.4 223.8,1010.3C226.1,1002.1 227.9,995.3 230.0,989.0C232.1,982.7 234.0,977.7 236.3,972.7C238.6,967.7 241.1,962.8 243.8,958.9C246.5,955.0 249.7,951.9 252.6,949.5C255.5,947.1 258.9,945.6 261.4,944.4C263.9,943.2 265.5,942.9 267.5,942.4C269.5,941.9 271.8,941.6 273.5,941.5C275.2,941.4 276.6,941.5 278.0,941.7C279.4,941.9 280.7,942.3 282.0,942.9C283.3,943.5 284.7,944.3 286.0,945.3C287.3,946.3 288.1,946.7 289.8,948.8C291.5,950.9 294.1,954.6 296.0,957.8C297.9,961.0 299.0,962.8 301.5,968.1C304.0,973.4 308.1,982.5 311.0,989.7C313.9,996.9 316.2,1003.6 318.8,1011.3C321.4,1019.0 324.1,1027.7 326.7,1035.9C329.3,1044.1 332.0,1053.1 334.6,1060.6C337.2,1068.0 339.4,1074.2 342.5,1080.6C345.6,1087.0 350.1,1093.8 353.5,1099.0C356.9,1104.2 360.0,1108.0 363.0,1111.5C366.0,1115.0 370.2,1118.5 371.7,1119.9" stroke="#ff0000" stroke-width="3.00" fill="none" stroke-linejoin="round" stroke-linecap="round"/>
<path d="M99.8,1249.6C101.3,1249.7 104.9,1250.8 108.6,1250.3C112.3,1249.8 117.7,1248.6 122.2,1246.9C126.8,1245.2 132.3,1242.6 135.9,1240.1C139.5,1237.6 141.3,1235.5 144.0,1231.9C146.7,1228.3 149.0,1224.1 152.2,1218.3C155.4,1212.5 159.0,1205.5 163.1,1197.2C167.2,1188.9 172.1,1179.0 176.7,1168.6C181.2,1158.1 186.3,1145.2 190.4,1134.5C194.5,1123.8 198.0,1115.4 201.3,1104.5C204.7,1093.6 207.5,1080.3 210.5,1069.2C213.5,1058.1 216.5,1047.7 219.2,1037.9C221.9,1028.1 224.5,1018.4 226.8,1010.3C229.1,1002.1 230.9,995.3 233.0,989.0C235.1,982.7 237.0,977.7 239.3,972.7C241.6,967.7 244.1,962.8 246.8,958.9C249.5,955.0 252.7,951.9 255.6,949.5C258.5,947.1 262.0,945.6 264.4,944.4C266.8,943.2 268.1,942.8 270.0,942.3C271.9,941.8 273.8,941.4 275.5,941.3C277.2,941.2 278.6,941.3 280.0,941.5C281.4,941.7 282.7,942.0 284.0,942.6C285.3,943.2 286.8,944.0 288.0,945.0C289.2,946.0 289.9,946.5 291.5,948.6C293.1,950.7 295.7,954.4 297.8,957.6C299.9,960.9 301.1,962.2 303.9,968.1C306.7,974.0 311.8,985.3 314.7,992.8C317.6,1000.3 319.2,1005.8 321.5,1013.0C323.8,1020.2 325.8,1027.7 328.5,1035.9C331.2,1044.1 334.7,1054.1 337.8,1062.1C340.9,1070.1 343.4,1077.0 347.0,1083.7C350.6,1090.4 355.3,1096.8 359.4,1102.2C363.5,1107.6 369.6,1113.7 371.7,1116.0" stroke="#0000ff" stroke-width="3.00" fill="none" stroke-linejoin="round" stroke-linecap="round"/>
<path d="M99.8,1231.2C101.3,1231.5 104.9,1232.8 108.6,1233.3C112.3,1233.8 118.1,1234.2 122.2,1233.9C126.3,1233.6 129.9,1232.6 133.1,1231.2C136.3,1229.8 138.6,1228.8 141.3,1225.8C144.0,1222.8 146.3,1218.7 149.5,1213.5C152.7,1208.3 156.3,1202.4 160.4,1194.4C164.5,1186.5 169.5,1175.8 174.0,1165.8C178.5,1155.8 183.5,1144.7 187.6,1134.5C191.7,1124.3 194.9,1115.4 198.5,1104.5C202.1,1093.6 205.7,1080.3 208.9,1069.2C212.1,1058.1 215.0,1047.7 217.7,1037.9C220.4,1028.1 223.0,1018.4 225.3,1010.3C227.6,1002.1 229.4,995.3 231.5,989.0C233.6,982.7 235.5,977.7 237.8,972.7C240.1,967.7 242.6,962.8 245.3,958.9C248.0,955.0 251.2,951.9 254.1,949.5C257.0,947.1 260.5,945.6 262.9,944.4C265.3,943.2 266.6,942.8 268.5,942.3C270.4,941.8 272.5,941.4 274.2,941.3C275.9,941.2 277.1,941.3 278.5,941.6C279.9,941.9 281.1,942.3 282.3,942.9C283.6,943.5 284.8,944.2 286.0,945.2C287.2,946.2 287.9,946.5 289.5,948.6C291.1,950.7 293.6,954.4 295.5,957.6C297.4,960.9 298.4,962.8 300.8,968.1C303.2,973.5 307.3,982.5 310.1,989.7C312.9,996.9 315.2,1003.6 317.8,1011.3C320.4,1019.0 322.9,1027.7 325.5,1035.9C328.1,1044.1 330.6,1053.1 333.2,1060.6C335.8,1068.0 337.8,1073.9 340.9,1080.6C344.0,1087.3 348.1,1094.9 351.7,1100.6C355.3,1106.2 359.1,1110.7 362.4,1114.5C365.7,1118.3 370.1,1122.2 371.7,1123.7" stroke="#00b050" stroke-width="3.00" fill="none" stroke-linejoin="round" stroke-linecap="round"/>
<path d="M615.2,1241.2C616.5,1242.1 620.3,1245.2 622.9,1246.4C625.5,1247.6 627.8,1248.4 630.6,1248.3C633.4,1248.2 636.2,1248.0 639.7,1245.7C643.2,1243.5 647.6,1239.0 651.3,1234.8C654.9,1230.6 658.4,1226.0 661.6,1220.6C664.8,1215.2 667.8,1209.2 670.6,1202.5C673.4,1195.8 676.0,1187.7 678.4,1180.6C680.8,1173.5 682.6,1166.7 684.8,1160.0C686.9,1153.3 688.9,1146.2 691.3,1140.6C693.7,1135.0 696.2,1130.1 699.0,1126.4C701.8,1122.8 705.2,1120.6 708.0,1118.7C710.8,1116.8 713.6,1116.5 715.8,1114.8C717.9,1113.1 719.2,1111.6 720.9,1108.4C722.6,1105.2 724.6,1100.2 726.1,1095.5C727.6,1090.8 728.6,1086.8 730.0,1080.0C731.4,1073.2 732.4,1065.6 734.3,1055.0C736.2,1044.4 739.1,1029.8 741.5,1016.2C743.9,1002.6 746.3,986.8 748.7,973.2C751.1,959.6 753.8,944.8 755.9,934.5C758.0,924.2 759.6,916.7 761.6,911.5C763.6,906.3 766.0,903.2 768.1,903.2C770.2,903.2 772.5,906.5 774.5,911.5C776.5,916.5 778.3,923.2 780.2,933.0C782.1,942.8 784.1,957.9 786.0,970.3C787.9,982.7 789.9,996.5 791.7,1007.6C793.5,1018.7 795.6,1029.2 797.0,1037.0C798.4,1044.8 798.2,1047.9 799.8,1054.4C801.4,1061.0 803.9,1069.4 806.6,1076.3C809.4,1083.2 812.8,1089.3 816.3,1095.8C819.8,1102.3 823.6,1109.4 827.3,1115.3C830.9,1121.2 834.4,1127.0 838.2,1131.1C842.1,1135.2 846.3,1139.5 850.4,1139.7C854.5,1139.9 859.1,1134.3 862.6,1132.4C866.1,1130.5 868.5,1129.5 871.1,1128.1C873.8,1126.7 876.2,1126.8 878.5,1123.8C880.8,1120.8 882.6,1116.9 884.6,1110.4C886.6,1103.9 888.6,1092.9 890.6,1084.8C892.6,1076.7 894.9,1068.0 896.7,1061.7C898.5,1055.4 900.2,1050.1 901.6,1047.1C903.0,1044.0 903.9,1042.8 905.3,1043.4C906.7,1044.0 908.5,1045.8 910.1,1050.7C911.7,1055.6 913.4,1063.2 915.0,1072.7C916.6,1082.2 918.3,1096.8 919.9,1108.0C921.5,1119.2 923.4,1131.5 924.8,1139.7C926.2,1147.9 927.1,1151.4 928.4,1157.2C929.7,1163.0 931.1,1169.0 932.7,1174.4C934.3,1179.9 935.8,1185.2 937.8,1189.9C939.8,1194.6 942.1,1198.9 944.7,1202.8C947.3,1206.7 950.0,1209.8 953.3,1213.1C956.6,1216.4 960.5,1219.7 964.5,1222.6C968.5,1225.5 972.4,1227.7 977.4,1230.3C982.4,1232.9 988.9,1235.9 994.6,1238.1C1000.3,1240.3 1008.6,1242.8 1011.4,1243.7" stroke="#000000" stroke-width="3.00" fill="none" stroke-linejoin="round" stroke-linecap="round"/>
<path d="M615.2,1249.0C616.5,1249.5 620.1,1251.5 622.9,1252.2C625.7,1253.0 628.7,1253.7 631.9,1253.5C635.1,1253.3 638.3,1253.2 642.2,1250.9C646.1,1248.6 651.0,1244.5 655.1,1239.9C659.2,1235.3 663.1,1229.2 666.8,1223.2C670.5,1217.2 673.7,1210.2 677.1,1203.8C680.5,1197.3 684.4,1189.4 687.4,1184.5C690.4,1179.6 692.5,1176.8 695.1,1174.2C697.7,1171.6 700.3,1170.1 702.9,1169.0C705.5,1167.9 708.0,1168.6 710.6,1167.7C713.2,1166.8 715.7,1166.4 718.3,1163.8C720.9,1161.2 723.7,1157.1 726.1,1152.2C728.5,1147.3 730.4,1140.7 732.5,1134.2C734.6,1127.8 736.9,1120.2 739.0,1113.5C741.1,1106.8 743.5,1099.5 745.4,1094.2C747.3,1089.0 748.5,1086.4 750.5,1082.0C752.5,1077.6 755.4,1071.3 757.3,1067.9C759.2,1064.5 760.3,1063.0 762.0,1061.5C763.7,1060.0 765.7,1058.8 767.3,1058.6C768.9,1058.4 770.0,1058.8 771.5,1060.5C773.0,1062.2 774.5,1063.6 776.5,1069.0C778.5,1074.4 780.8,1083.2 783.8,1093.0C786.8,1102.8 790.6,1117.7 794.4,1127.5C798.2,1137.3 802.1,1145.0 806.6,1151.9C811.1,1158.8 816.5,1164.4 821.2,1168.9C825.9,1173.4 830.1,1176.3 834.6,1178.7C839.1,1181.1 843.9,1183.1 848.0,1183.5C852.1,1183.9 855.5,1181.9 859.0,1181.1C862.5,1180.3 865.5,1179.2 868.7,1178.7C872.0,1178.2 875.6,1179.1 878.5,1178.1C881.4,1177.1 883.2,1175.9 885.8,1172.6C888.4,1169.2 891.9,1161.9 894.3,1158.0C896.7,1154.1 898.6,1151.4 900.4,1149.4C902.2,1147.4 903.2,1145.4 905.0,1145.8C906.8,1146.2 909.3,1147.9 911.4,1151.9C913.5,1156.0 915.7,1163.5 917.5,1170.1C919.3,1176.7 920.6,1185.1 922.4,1191.6C924.2,1198.0 926.1,1203.6 928.4,1208.8C930.7,1214.0 933.1,1218.6 936.1,1222.6C939.1,1226.6 942.5,1229.8 946.5,1232.9C950.5,1236.1 955.1,1239.1 960.2,1241.5C965.4,1243.9 971.7,1245.8 977.4,1247.5C983.1,1249.2 988.9,1250.6 994.6,1251.8C1000.3,1253.0 1008.6,1254.3 1011.4,1254.8" stroke="#00b050" stroke-width="3.00" fill="none" stroke-linejoin="round" stroke-linecap="round"/>
<path d="M615.2,1251.5C616.9,1252.1 622.1,1254.8 625.5,1255.2C628.9,1255.6 631.9,1255.7 635.8,1254.1C639.7,1252.5 644.0,1250.0 648.7,1245.7C653.4,1241.4 659.2,1235.9 664.2,1228.3C669.2,1220.7 674.1,1208.4 678.4,1200.0C682.7,1191.6 686.4,1184.2 690.0,1178.0C693.6,1171.8 697.5,1165.3 700.3,1162.5C703.1,1159.7 704.1,1161.2 706.7,1161.0C709.3,1160.8 713.2,1162.1 715.8,1161.3C718.4,1160.5 719.8,1160.0 722.2,1156.1C724.6,1152.2 727.2,1145.7 730.0,1138.0C732.8,1130.3 736.6,1118.2 739.0,1109.7C741.4,1101.2 742.4,1096.1 744.5,1087.0C746.6,1077.9 749.2,1064.2 751.6,1055.0C754.0,1045.8 756.7,1037.2 758.7,1032.0C760.7,1026.8 761.9,1025.4 763.5,1023.5C765.1,1021.6 766.9,1020.8 768.5,1020.8C770.1,1020.8 771.6,1021.8 773.0,1023.5C774.4,1025.2 775.3,1025.9 777.0,1031.0C778.7,1036.1 781.0,1044.4 783.4,1054.0C785.8,1063.6 788.4,1078.1 791.2,1088.7C794.1,1099.3 796.9,1108.8 800.5,1117.7C804.1,1126.6 808.4,1135.2 812.7,1142.1C817.0,1149.0 821.6,1154.3 826.1,1159.2C830.6,1164.1 835.6,1169.0 839.5,1171.4C843.4,1173.8 846.0,1174.0 849.2,1173.8C852.5,1173.6 856.0,1171.3 859.0,1170.1C862.0,1168.9 864.5,1167.4 867.5,1166.5C870.5,1165.6 874.6,1165.9 877.2,1164.7C879.8,1163.5 880.8,1163.4 883.3,1159.2C885.8,1155.0 889.2,1146.0 891.9,1139.7C894.5,1133.4 896.9,1125.5 899.2,1121.4C901.5,1117.3 903.5,1115.3 905.5,1115.3C907.5,1115.3 909.4,1116.3 911.4,1121.4C913.4,1126.5 915.5,1137.1 917.5,1145.8C919.5,1154.5 921.4,1166.0 923.5,1173.8C925.6,1181.6 927.5,1187.0 930.0,1192.5C932.5,1198.0 935.7,1202.2 938.7,1206.5C941.7,1210.8 944.6,1214.5 948.2,1218.0C951.8,1221.5 955.3,1224.5 960.2,1227.5C965.1,1230.5 971.7,1233.7 977.4,1236.0C983.1,1238.3 988.9,1239.9 994.6,1241.5C1000.3,1243.1 1008.6,1244.8 1011.4,1245.4" stroke="#ff0000" stroke-width="3.00" fill="none" stroke-linejoin="round" stroke-linecap="round"/>
<path d="M615.2,1250.3C617.6,1251.0 624.8,1254.6 629.3,1254.8C633.8,1255.0 637.9,1253.9 642.2,1251.5C646.5,1249.1 650.8,1245.3 655.1,1240.6C659.4,1235.9 663.9,1229.8 668.0,1223.2C672.1,1216.6 675.9,1208.3 679.6,1201.2C683.3,1194.1 686.5,1186.6 690.0,1180.6C693.5,1174.6 697.5,1168.0 700.3,1165.1C703.1,1162.2 704.1,1163.6 706.7,1163.2C709.3,1162.8 713.0,1163.7 715.8,1162.5C718.6,1161.3 720.9,1160.2 723.5,1156.1C726.1,1152.0 728.4,1145.7 731.2,1138.0C734.0,1130.3 737.8,1118.0 740.3,1109.7C742.8,1101.4 743.6,1097.1 746.0,1088.0C748.4,1078.9 751.8,1063.1 754.4,1055.0C757.0,1046.9 759.3,1043.0 761.6,1039.2C763.9,1035.4 765.7,1031.4 768.2,1032.0C770.7,1032.6 773.8,1037.0 776.5,1043.0C779.2,1049.0 782.2,1060.2 784.5,1068.0C786.8,1075.8 788.6,1083.1 790.5,1090.0C792.4,1096.9 792.7,1101.7 795.6,1109.2C798.5,1116.7 803.5,1127.1 807.8,1134.8C812.1,1142.5 816.5,1149.6 821.2,1155.5C825.9,1161.4 831.1,1166.8 835.8,1170.1C840.5,1173.3 844.9,1174.8 849.2,1175.0C853.5,1175.2 858.0,1172.6 861.4,1171.4C864.8,1170.2 867.0,1168.5 869.9,1167.7C872.8,1166.9 876.0,1167.5 878.5,1166.5C881.0,1165.5 882.4,1165.2 884.6,1161.6C886.8,1157.9 889.5,1150.3 891.9,1144.6C894.3,1138.9 896.9,1131.2 899.2,1127.5C901.5,1123.8 903.5,1122.4 905.5,1122.6C907.5,1122.8 909.4,1123.8 911.4,1128.7C913.4,1133.6 915.5,1144.0 917.5,1151.9C919.5,1159.8 921.2,1169.3 923.5,1176.2C925.8,1183.1 928.5,1188.0 931.0,1193.3C933.5,1198.6 935.8,1203.7 938.7,1208.0C941.6,1212.3 944.6,1215.7 948.2,1219.1C951.8,1222.5 955.3,1225.6 960.2,1228.6C965.1,1231.6 971.7,1234.8 977.4,1237.2C983.1,1239.6 988.9,1241.2 994.6,1242.8C1000.3,1244.4 1008.6,1246.0 1011.4,1246.7" stroke="#0000ff" stroke-width="3.00" fill="none" stroke-linejoin="round" stroke-linecap="round"/>
<path d="M1112.9,1280.2C1114.0,1278.7 1117.0,1275.0 1119.2,1271.0C1121.4,1267.0 1123.8,1262.4 1126.1,1256.1C1128.4,1249.8 1130.8,1240.8 1132.9,1233.2C1135.0,1225.6 1136.8,1218.3 1138.7,1210.3C1140.6,1202.3 1142.5,1191.7 1144.4,1185.0C1146.3,1178.3 1147.9,1173.4 1150.1,1170.1C1152.3,1166.8 1155.3,1165.0 1157.6,1165.0C1159.9,1165.0 1161.9,1167.3 1163.9,1170.1C1165.9,1172.9 1167.5,1177.2 1169.6,1181.6C1171.7,1186.0 1174.0,1192.7 1176.5,1196.5C1179.0,1200.3 1182.0,1203.9 1184.5,1204.5C1187.0,1205.1 1189.3,1203.2 1191.4,1200.0C1193.5,1196.8 1195.0,1190.5 1197.1,1185.0C1199.2,1179.5 1201.7,1172.6 1204.0,1166.7C1206.3,1160.8 1208.4,1154.3 1210.9,1149.5C1213.4,1144.7 1216.1,1141.2 1218.9,1138.0C1221.7,1134.8 1224.5,1132.1 1227.7,1130.0C1230.9,1127.9 1235.1,1127.5 1238.1,1125.5C1241.1,1123.5 1243.6,1121.8 1245.8,1117.7C1248.0,1113.6 1249.3,1107.7 1251.0,1101.0C1252.7,1094.3 1254.4,1085.9 1256.1,1077.7C1257.8,1069.5 1259.8,1058.8 1261.3,1051.9C1262.8,1045.0 1263.8,1039.9 1265.2,1036.5C1266.6,1033.1 1268.0,1030.9 1269.7,1031.3C1271.4,1031.7 1273.7,1036.0 1275.5,1039.0C1277.3,1042.0 1278.8,1046.7 1280.6,1049.4C1282.4,1052.1 1284.5,1055.0 1286.5,1055.2C1288.5,1055.4 1290.3,1053.7 1292.3,1050.6C1294.3,1047.5 1296.0,1041.5 1298.7,1036.5C1301.4,1031.5 1305.5,1026.0 1308.6,1020.4C1311.7,1014.9 1314.6,1009.4 1317.2,1003.2C1319.8,997.0 1322.0,990.8 1324.4,983.1C1326.8,975.5 1329.1,965.6 1331.5,957.3C1333.9,948.9 1336.3,939.7 1338.7,933.0C1341.1,926.3 1343.4,920.7 1345.9,917.2C1348.4,913.7 1351.1,912.2 1353.7,912.2C1356.3,912.2 1359.1,914.0 1361.6,917.2C1364.1,920.4 1366.4,925.3 1368.8,931.5C1371.2,937.7 1373.6,946.6 1376.0,954.5C1378.4,962.4 1380.7,972.1 1383.1,978.8C1385.5,985.5 1387.9,988.9 1390.3,994.6C1392.7,1000.3 1395.2,1006.0 1397.4,1013.2C1399.6,1020.4 1401.3,1028.3 1403.2,1037.6C1405.1,1046.9 1407.4,1058.7 1408.9,1069.1C1410.5,1079.5 1411.5,1091.3 1412.5,1100.0C1413.5,1108.7 1413.4,1112.7 1414.6,1121.5C1415.8,1130.3 1417.6,1142.6 1419.4,1153.1C1421.2,1163.6 1423.6,1174.6 1425.7,1184.6C1427.8,1194.6 1429.9,1203.8 1432.0,1213.0C1434.1,1222.2 1435.9,1231.4 1438.3,1239.8C1440.7,1248.2 1443.0,1256.3 1446.2,1263.4C1449.4,1270.5 1453.8,1277.4 1457.2,1282.3C1460.6,1287.2 1463.6,1290.4 1466.7,1292.6C1469.8,1294.8 1474.5,1295.2 1476.1,1295.7" stroke="#000000" stroke-width="3.00" fill="none" stroke-linejoin="round" stroke-linecap="round"/>
<path d="M1112.9,1267.6C1114.0,1267.3 1117.0,1267.2 1119.2,1265.9C1121.4,1264.6 1123.4,1263.1 1126.1,1259.6C1128.8,1256.1 1132.2,1250.4 1135.2,1244.7C1138.2,1239.0 1141.5,1230.6 1144.4,1225.2C1147.3,1219.8 1149.7,1215.4 1152.4,1212.6C1155.1,1209.8 1157.6,1208.7 1160.5,1208.5C1163.4,1208.3 1166.5,1210.7 1169.6,1211.4C1172.6,1212.1 1175.9,1213.0 1178.8,1212.6C1181.7,1212.2 1184.1,1211.8 1186.8,1209.1C1189.5,1206.4 1192.0,1202.4 1194.9,1196.5C1197.8,1190.6 1201.0,1180.9 1204.0,1173.6C1207.0,1166.3 1210.1,1158.2 1213.2,1152.9C1216.3,1147.6 1219.4,1144.4 1222.4,1141.5C1225.5,1138.6 1228.7,1137.1 1231.5,1135.7C1234.3,1134.3 1236.8,1135.3 1239.4,1133.2C1242.0,1131.1 1244.8,1128.5 1247.1,1122.9C1249.4,1117.3 1251.3,1107.2 1253.5,1099.7C1255.7,1092.2 1258.0,1083.3 1260.0,1077.7C1262.0,1072.1 1263.3,1068.8 1265.2,1066.1C1267.1,1063.4 1269.4,1061.6 1271.6,1061.6C1273.8,1061.6 1275.6,1064.6 1278.1,1066.1C1280.6,1067.6 1283.7,1070.6 1286.5,1070.6C1289.3,1070.6 1291.9,1068.6 1294.8,1066.1C1297.7,1063.6 1300.5,1059.3 1303.9,1055.8C1307.4,1052.2 1312.1,1048.7 1315.5,1044.8C1318.9,1040.9 1321.5,1037.2 1324.5,1032.6C1327.5,1028.0 1330.7,1021.4 1333.5,1017.1C1336.3,1012.8 1339.0,1009.2 1341.3,1006.8C1343.6,1004.4 1344.7,1002.3 1347.1,1002.9C1349.5,1003.5 1353.0,1005.9 1355.9,1010.3C1358.8,1014.6 1361.9,1021.8 1364.5,1029.0C1367.1,1036.2 1369.3,1045.0 1371.7,1053.3C1374.1,1061.6 1377.0,1073.0 1378.8,1079.1C1380.6,1085.2 1380.5,1084.2 1382.3,1090.0C1384.1,1095.8 1386.9,1106.2 1389.4,1113.6C1391.9,1120.9 1394.9,1127.0 1397.3,1134.1C1399.7,1141.2 1401.5,1148.3 1403.6,1156.2C1405.7,1164.1 1407.8,1173.0 1409.9,1181.4C1412.0,1189.8 1413.8,1197.8 1416.2,1206.7C1418.6,1215.6 1421.2,1226.1 1424.1,1235.0C1427.0,1243.9 1430.4,1252.1 1433.6,1260.3C1436.8,1268.5 1440.1,1277.6 1443.0,1283.9C1445.9,1290.2 1448.5,1294.7 1450.9,1298.1C1453.3,1301.5 1456.2,1303.4 1457.2,1304.4" stroke="#00b050" stroke-width="3.00" fill="none" stroke-linejoin="round" stroke-linecap="round"/>
<path d="M1112.9,1272.8C1114.3,1271.4 1118.5,1268.3 1121.5,1264.2C1124.5,1260.1 1127.5,1254.2 1130.6,1248.1C1133.6,1242.0 1136.9,1233.8 1139.8,1227.5C1142.7,1221.2 1145.1,1214.3 1147.8,1210.3C1150.5,1206.3 1153.2,1204.0 1155.9,1203.4C1158.6,1202.8 1161.2,1204.5 1163.9,1206.8C1166.6,1209.1 1169.0,1214.1 1171.9,1217.1C1174.8,1220.1 1178.2,1224.0 1181.1,1224.6C1184.0,1225.2 1186.4,1223.8 1189.1,1220.6C1191.8,1217.4 1194.2,1211.2 1197.1,1205.7C1200.0,1200.2 1203.2,1192.8 1206.3,1187.3C1209.4,1181.8 1212.4,1176.2 1215.5,1172.4C1218.6,1168.6 1221.8,1166.4 1224.7,1164.4C1227.6,1162.4 1230.8,1161.4 1233.0,1160.5C1235.2,1159.6 1236.0,1161.0 1238.1,1159.0C1240.2,1157.0 1243.2,1154.5 1245.8,1148.7C1248.4,1142.9 1251.1,1131.7 1253.5,1124.2C1255.9,1116.7 1258.0,1108.7 1260.0,1103.5C1262.0,1098.3 1263.3,1095.5 1265.2,1093.2C1267.1,1091.0 1269.4,1089.8 1271.6,1090.0C1273.8,1090.2 1275.6,1092.9 1278.1,1094.5C1280.6,1096.1 1283.7,1099.6 1286.5,1099.7C1289.3,1099.8 1291.9,1097.0 1294.8,1095.2C1297.7,1093.4 1300.7,1091.0 1303.9,1088.7C1307.1,1086.4 1311.0,1084.7 1314.2,1081.6C1317.4,1078.5 1320.2,1074.5 1323.2,1070.0C1326.2,1065.5 1329.3,1059.0 1332.3,1054.5C1335.3,1050.0 1338.6,1045.4 1341.3,1042.9C1344.0,1040.4 1345.7,1039.4 1348.4,1039.7C1351.1,1040.0 1354.4,1041.2 1357.3,1044.7C1360.2,1048.2 1363.0,1054.3 1365.9,1060.5C1368.8,1066.7 1372.4,1077.1 1374.5,1082.0C1376.6,1086.9 1376.4,1085.0 1378.4,1090.0C1380.4,1095.0 1383.4,1104.8 1386.3,1112.1C1389.2,1119.4 1393.1,1127.3 1395.7,1134.1C1398.3,1140.9 1399.9,1145.7 1402.0,1153.1C1404.1,1160.5 1405.9,1168.8 1408.3,1178.3C1410.7,1187.8 1413.3,1200.1 1416.2,1209.8C1419.1,1219.5 1422.3,1227.4 1425.7,1236.6C1429.1,1245.8 1433.6,1256.6 1436.7,1265.0C1439.8,1273.4 1442.0,1282.1 1444.6,1287.1C1447.2,1292.1 1449.6,1292.1 1452.5,1295.0C1455.4,1297.9 1460.3,1302.8 1461.9,1304.4" stroke="#ff0000" stroke-width="3.00" fill="none" stroke-linejoin="round" stroke-linecap="round"/>
<path d="M1112.9,1276.8C1114.3,1275.7 1118.2,1273.4 1121.5,1269.9C1124.8,1266.5 1129.1,1261.6 1132.9,1256.1C1136.7,1250.5 1141.2,1241.8 1144.4,1236.6C1147.7,1231.4 1150.3,1227.3 1152.4,1225.2C1154.5,1223.1 1155.1,1223.7 1157.0,1224.0C1158.9,1224.3 1161.2,1225.0 1163.9,1226.9C1166.6,1228.8 1170.2,1233.7 1173.1,1235.5C1176.0,1237.3 1178.4,1238.2 1181.1,1237.8C1183.8,1237.4 1186.4,1236.1 1189.1,1233.2C1191.8,1230.3 1194.0,1225.9 1197.1,1220.6C1200.2,1215.2 1203.9,1206.6 1207.5,1201.1C1211.1,1195.5 1215.1,1190.5 1218.9,1187.3C1222.7,1184.0 1227.0,1183.1 1230.4,1181.6C1233.9,1180.1 1237.1,1179.7 1239.6,1178.2C1242.1,1176.7 1243.6,1175.1 1245.3,1172.4C1247.0,1169.7 1248.6,1166.3 1250.0,1162.1C1251.4,1157.9 1251.8,1153.3 1253.5,1147.4C1255.2,1141.5 1258.0,1132.2 1260.0,1126.8C1262.0,1121.4 1263.3,1117.8 1265.2,1115.2C1267.1,1112.6 1269.4,1111.2 1271.6,1111.3C1273.8,1111.4 1275.6,1114.2 1278.1,1115.8C1280.6,1117.4 1283.7,1120.8 1286.5,1121.0C1289.3,1121.2 1291.9,1118.9 1294.8,1117.1C1297.7,1115.3 1300.7,1112.3 1303.9,1110.0C1307.1,1107.7 1311.0,1106.3 1314.2,1103.5C1317.4,1100.7 1320.2,1097.3 1323.2,1093.2C1326.2,1089.1 1329.3,1083.1 1332.3,1079.0C1335.3,1074.9 1338.8,1071.0 1341.3,1068.7C1343.8,1066.5 1344.7,1065.2 1347.1,1065.5C1349.5,1065.8 1353.2,1067.8 1355.9,1070.5C1358.6,1073.2 1360.7,1077.1 1363.1,1082.0C1365.5,1086.9 1368.5,1095.2 1370.2,1100.0C1372.0,1104.8 1371.7,1104.8 1373.6,1110.5C1375.5,1116.2 1378.6,1126.8 1381.5,1134.1C1384.4,1141.4 1388.4,1149.1 1391.0,1154.6C1393.6,1160.1 1395.2,1162.3 1397.3,1167.3C1399.4,1172.3 1401.5,1177.5 1403.6,1184.6C1405.7,1191.7 1407.5,1201.1 1409.9,1209.8C1412.3,1218.5 1414.9,1228.2 1417.8,1236.6C1420.7,1245.0 1424.1,1252.7 1427.3,1260.3C1430.5,1267.9 1433.5,1274.9 1436.7,1282.3C1439.9,1289.7 1444.6,1300.7 1446.2,1304.4" stroke="#0000ff" stroke-width="3.00" fill="none" stroke-linejoin="round" stroke-linecap="round"/>
<path d="M362.1,162.1C363.2,162.9 366.6,165.1 368.8,167.2C371.0,169.3 373.3,172.0 375.3,174.7C377.3,177.4 379.0,180.2 380.6,183.3C382.2,186.4 383.7,189.8 384.9,193.0C386.1,196.2 387.0,199.7 387.6,202.7C388.2,205.7 388.3,209.6 388.4,211.0" stroke="#000" stroke-width="1.6" fill="none" stroke-linecap="butt"/>
<path d="M388.4,219.4 L383.6,210.4 L393.1,210.4 Z" fill="#000"/>
<path d="M575.2,182.2C573.1,182.7 565.9,183.5 562.3,185.1C558.7,186.7 556.2,189.0 553.7,191.5C551.2,194.0 548.9,197.2 547.2,200.1C545.5,203.0 544.3,206.6 543.6,208.7C542.9,210.8 543.0,212.1 542.9,212.8" stroke="#000" stroke-width="1.6" fill="none" stroke-linecap="butt"/>
<path d="M539.7,220.9 L538.3,210.8 L547.2,214.1 Z" fill="#000"/>
<path d="M581.6,189.0C580.2,189.9 575.4,192.3 573.0,194.4C570.6,196.5 569.1,198.5 567.3,201.6C565.5,204.7 563.7,208.7 562.3,213.0C560.9,217.3 559.6,222.6 558.7,227.4C557.8,232.2 557.3,237.7 556.9,241.7C556.5,245.7 556.6,249.9 556.5,251.5" stroke="#000" stroke-width="1.6" fill="none" stroke-linecap="butt"/>
<path d="M556.5,259.9 L551.8,250.9 L561.2,250.9 Z" fill="#000"/>
<path d="M989.5,92.1C992.1,92.0 999.6,91.0 1005.4,91.7C1011.2,92.4 1017.9,93.7 1024.1,96.3C1030.3,98.9 1037.3,102.8 1042.7,107.1C1048.1,111.4 1053.0,116.9 1056.7,122.0C1060.5,127.1 1063.2,133.1 1065.2,137.9C1067.2,142.7 1067.8,147.7 1068.4,151.0C1069.0,154.3 1068.8,156.4 1068.9,157.5" stroke="#000" stroke-width="1.6" fill="none" stroke-linecap="butt"/>
<path d="M1068.9,165.2 L1064.2,157.2 L1073.7,157.2 Z" fill="#000"/>
<path d="M953.5,172.5C955.9,172.0 963.2,169.9 968.0,169.7C972.8,169.5 977.3,170.0 982.0,171.1C986.7,172.2 991.6,174.5 996.0,176.2C1000.4,177.9 1006.2,180.6 1008.2,181.5" stroke="#000" stroke-width="1.6" fill="none" stroke-linecap="butt"/>
<path d="M1015.2,186.2 L1005.1,184.8 L1010.7,177.1 Z" fill="#000"/>
<path d="M936.7,250.0C938.2,250.1 942.9,249.8 946.0,250.4C949.1,251.0 952.7,252.4 955.4,253.7C958.1,255.0 960.1,256.6 962.4,258.4C964.7,260.2 967.7,262.7 969.4,264.4C971.1,266.1 972.1,267.7 972.6,268.4" stroke="#000" stroke-width="1.6" fill="none" stroke-linecap="butt"/>
<path d="M977.8,275.8 L968.7,271.3 L976.4,265.7 Z" fill="#000"/>
<path d="M1328.1,92.1C1327.0,90.8 1324.1,86.9 1321.4,84.6C1318.7,82.3 1315.1,80.0 1312.0,78.5C1308.9,77.0 1305.7,76.1 1302.7,75.5C1299.8,74.9 1296.7,74.7 1294.3,75.0C1291.9,75.3 1289.4,76.9 1288.4,77.3" stroke="#000" stroke-width="1.6" fill="none" stroke-linecap="butt"/>
<path d="M1281.0,82.4 L1285.6,73.3 L1291.1,81.1 Z" fill="#000"/>
<path d="M861.9,946.2C859.1,947.3 850.8,950.2 845.4,952.6C840.0,955.0 834.7,957.7 829.4,960.6C824.1,963.5 818.2,967.1 813.4,970.2C808.6,973.3 802.7,977.8 800.6,979.3" stroke="#000" stroke-width="1.6" fill="none"/>
<path d="M780.8,999.6C779.5,1001.7 774.3,1009.9 773.0,1012.0" stroke="#000" stroke-width="1.6" fill="none" stroke-linecap="butt"/>
<path d="M769.1,1019.5 L769.3,1009.3 L777.6,1013.9 Z" fill="#000"/>
<path d="M906.2,970.2C905.7,972.3 903.8,978.2 903.0,983.0C902.2,987.8 901.6,994.2 901.4,999.0C901.2,1003.8 901.5,1007.4 902.0,1011.8C902.5,1016.2 903.9,1023.0 904.3,1025.2" stroke="#000" stroke-width="1.6" fill="none" stroke-linecap="butt"/>
<path d="M906.0,1034.4 L899.8,1026.4 L909.1,1024.7 Z" fill="#000"/>
<path d="M1278.1,945.5C1279.8,946.0 1284.3,947.3 1288.0,948.8C1291.7,950.2 1296.0,952.3 1300.0,954.2C1304.0,956.1 1308.4,958.3 1312.0,960.2C1315.6,962.1 1320.0,964.7 1321.6,965.6" stroke="#000" stroke-width="1.6" fill="none"/>
<path d="M1336.6,980.9C1337.8,982.8 1342.8,990.1 1344.1,992.0" stroke="#000" stroke-width="1.6" fill="none" stroke-linecap="butt"/>
<path d="M1348.5,998.9 L1339.6,993.9 L1347.6,988.8 Z" fill="#000"/>
<path d="M1106.5,1138.2C1107.0,1139.4 1108.1,1142.7 1109.3,1145.2C1110.5,1147.7 1111.9,1150.5 1113.6,1153.0C1115.3,1155.5 1117.2,1158.1 1119.3,1160.4C1121.4,1162.7 1123.9,1165.0 1126.2,1166.9C1128.5,1168.8 1131.4,1170.5 1133.2,1171.6C1135.0,1172.7 1136.4,1173.2 1137.0,1173.5" stroke="#000" stroke-width="1.6" fill="none" stroke-linecap="butt"/>
<path d="M1145.0,1177.5 L1134.8,1177.8 L1139.0,1169.3 Z" fill="#000"/>
<path d="M17.30,3.00 Q3.70,25.90 17.30,48.80 L20.70,48.20 Q8.90,25.90 20.70,3.60 Z" fill="#000"/>
<path d="M56.20,3.00 Q69.40,25.90 56.20,48.80 L52.80,48.20 Q64.20,25.90 52.80,3.60 Z" fill="#000"/>
<path d="M27.6,19.2 C29.5,16.9 32.2,16.0 35.0,16.0 C40.5,16.0 44.1,18.5 44.1,24.0 L44.1,40.4" stroke="#000" stroke-width="3.40" fill="none" stroke-linecap="butt"/>
<path d="M44.1,26.3 L36.5,26.3 C30.8,26.3 27.8,29.0 27.8,32.9 C27.8,36.8 30.5,39.0 34.2,39.0 C38.2,39.0 41.6,37.2 44.1,34.3" stroke="#000" stroke-width="3.40" fill="none" stroke-linecap="butt"/>
<path d="M17.30,890.50 Q3.70,913.65 17.30,936.80 L20.70,936.20 Q8.90,913.65 20.70,891.10 Z" fill="#000"/>
<path d="M58.40,890.50 Q71.60,913.65 58.40,936.80 L55.00,936.20 Q66.40,913.65 55.00,891.10 Z" fill="#000"/>
<path d="M29.8,890.8 V927.8" stroke="#000" stroke-width="3.80" fill="none" stroke-linecap="butt"/>
<path d="M29.8,908.5 C32.0,904.3 35.2,903.0 38.5,903.0 C44.5,903.0 47.9,908.0 47.9,914.9 C47.9,922.0 44.5,926.8 38.5,926.8 C35.0,926.8 32.0,925.3 29.8,921.8" stroke="#000" stroke-width="3.40" fill="none" stroke-linecap="butt"/>
<path d="M563.40,890.30 Q550.20,913.55 563.40,936.80 L566.80,936.20 Q555.40,913.55 566.80,890.90 Z" fill="#000"/>
<path d="M599.20,890.30 Q612.40,913.55 599.20,936.80 L595.80,936.20 Q607.20,913.55 595.80,890.90 Z" fill="#000"/>
<path d="M590.6,907.6 C588.0,904.8 585.2,904.0 582.2,904.0 C577.0,904.0 574.0,908.5 574.0,915.4 C574.0,922.5 577.5,926.8 582.6,926.8 C585.6,926.8 588.2,925.8 590.6,923.3" stroke="#000" stroke-width="3.80" fill="none" stroke-linecap="butt"/>
<path d="M1062.30,890.30 Q1048.70,913.55 1062.30,936.80 L1065.70,936.20 Q1053.90,913.55 1065.70,890.90 Z" fill="#000"/>
<path d="M1103.60,890.30 Q1116.40,913.55 1103.60,936.80 L1100.20,936.20 Q1111.20,913.55 1100.20,890.90 Z" fill="#000"/>
<path d="M1091.5,890.8 V927.8" stroke="#000" stroke-width="3.80" fill="none" stroke-linecap="butt"/>
<path d="M1091.5,908.5 C1089.0,904.8 1086.0,904.0 1083.0,904.0 C1077.0,904.0 1073.3,908.5 1073.3,915.4 C1073.3,922.5 1076.6,926.8 1082.0,926.8 C1085.5,926.8 1088.6,925.4 1091.5,921.8" stroke="#000" stroke-width="3.40" fill="none" stroke-linecap="butt"/>
<text id="oh" transform="translate(190.09,160.37) scale(1.1061,1.0013)" font-size="28" font-style="italic" fill="#000">O-H<tspan font-size="17.5" dy="6.5">str</tspan><tspan dy="-6.5">/N-H</tspan><tspan font-size="17.5" dy="6.5">str</tspan></text>
<text id="lipids" transform="translate(506.00,152.62) scale(1.0307,0.9841)" font-size="33" font-style="italic" fill="#000">lipids</text>
<text id="ch2" transform="translate(591.28,196.20) scale(1.0192,1.0870)" font-size="29" font-style="italic" fill="#000">CH<tspan font-size="19" dy="7">2</tspan></text>
<text id="proteins" transform="translate(983.62,59.04) scale(1.0178,0.9938)" font-size="33" font-style="italic" fill="#000">proteins</text>
<text id="poly" transform="translate(1150.12,30.77) scale(1.0258,0.9745)" font-size="33" font-style="italic" fill="#000">polysaccharides</text>
<text id="amide2" transform="translate(854.52,114.00) scale(1.0116,1.0232)" font-size="30" font-style="italic" fill="#000">Amide II</text>
<text id="amide1" transform="translate(833.50,193.81) scale(1.0030,1.0232)" font-size="30" font-style="italic" fill="#000">Amide I</text>
<text id="co" transform="translate(857.00,268.10) scale(1.0034,1.0623)" font-size="30" font-style="italic" fill="#000">C=O</text>
<text id="costr" transform="translate(1332.78,113.90) scale(1.0241,1.0697)" font-size="29" font-style="italic" fill="#000">C-O<tspan font-size="20" dy="7">str</tspan></text>
<text id="control" transform="translate(95.34,295.90) scale(1.0510,1.0698)" font-size="32" font-weight="bold" fill="#000">control</text>
<text id="glys" transform="translate(95.90,423.47) scale(1.0493,1.0036)" font-size="32" font-style="italic" font-weight="bold" fill="#00b050">glys</text>
<text id="ldlr" transform="translate(94.80,550.93) scale(1.0706,0.9998)" font-size="32" font-style="italic" font-weight="bold" fill="#ff0000">ldlr</text>
<text id="atp" transform="translate(95.39,653.65) scale(1.0726,1.0619)" font-size="32" font-style="italic" font-weight="bold" fill="#0000ff">atp</text>
<text id="ylab" transform="translate(55.21,558.48) rotate(-90) scale(0.9882,0.9739)" font-size="31" fill="#000">Intensity/Absorbance</text>
<text id="xlab_a" transform="translate(663.00,803.40) scale(1.0240,0.9333)" font-size="30" fill="#000">Wavenumbers (cm<tspan font-size="18" dy="-11">-1</tspan><tspan dy="11">)</tspan></text>
<text id="ta_4000" transform="translate(76.84,759.40) scale(0.9600,1.0000)" font-size="28" fill="#000">4000</text>
<text id="ta_3500" transform="translate(271.86,759.40) scale(0.9600,1.0000)" font-size="28" fill="#000">3500</text>
<text id="ta_3000" transform="translate(467.36,759.40) scale(0.9600,1.0000)" font-size="28" fill="#000">3000</text>
<text id="ta_2500" transform="translate(662.36,759.40) scale(0.9600,1.0000)" font-size="28" fill="#000">2500</text>
<text id="ta_2000" transform="translate(858.36,759.40) scale(0.9600,1.0000)" font-size="28" fill="#000">2000</text>
<text id="ta_1500" transform="translate(1053.38,759.40) scale(0.9600,1.0000)" font-size="28" fill="#000">1500</text>
<text id="ta_1000" transform="translate(1248.88,759.40) scale(0.9600,1.0000)" font-size="28" fill="#000">1000</text>
<text id="ta_500" transform="translate(1452.04,759.40) scale(0.9600,1.0000)" font-size="28" fill="#000">500</text>
<text id="amide1b" transform="translate(225.57,925.31) scale(1.1357,1.1519)" font-size="30" font-style="italic" fill="#000">Amide I</text>
<text id="tb_1690" transform="translate(132.36,1345.70) scale(0.9500,1.0270)" font-size="28" fill="#000">1690</text>
<text id="tb_1640" transform="translate(236.78,1345.70) scale(0.9500,1.0270)" font-size="28" fill="#000">1640</text>
<text id="tb_1590" transform="translate(341.19,1345.70) scale(0.9500,1.0270)" font-size="28" fill="#000">1590</text>
<text id="xlab_b" transform="translate(96.00,1388.00) scale(1.0204,1.0000)" font-size="30" fill="#000">Wavenumbers (cm<tspan font-size="18" dy="-11">-1</tspan><tspan dy="11">)</tspan></text>
<text id="tc_3000" transform="translate(584.85,1346.00) scale(0.9699,1.0429)" font-size="28" fill="#000">3000</text>
<text id="tc_2950" transform="translate(683.54,1346.00) scale(0.9699,1.0429)" font-size="28" fill="#000">2950</text>
<text id="tc_2900" transform="translate(782.75,1346.00) scale(0.9699,1.0429)" font-size="28" fill="#000">2900</text>
<text id="tc_2850" transform="translate(881.96,1346.00) scale(0.9699,1.0429)" font-size="28" fill="#000">2850</text>
<text id="tc_2800" transform="translate(980.66,1346.00) scale(0.9699,1.0429)" font-size="28" fill="#000">2800</text>
<text id="xlab_c" transform="translate(672.00,1388.00) scale(1.0258,1.0000)" font-size="30" fill="#000">Wavenumbers (cm<tspan font-size="18" dy="-11">-1</tspan><tspan dy="11">)</tspan></text>
<text id="lg_control" transform="translate(512.58,1039.69) scale(1.0160,0.9983)" font-size="30" fill="#000">control</text>
<text id="lg_glys" transform="translate(513.60,1079.40) scale(1.0152,0.9764)" font-size="30" font-style="italic" fill="#000">glys</text>
<text id="lg_ldlr" transform="translate(512.58,1118.22) scale(1.0079,0.8900)" font-size="30" font-style="italic" fill="#000">ldlr</text>
<text id="lg_atp" transform="translate(513.70,1155.63) scale(0.9807,0.9135)" font-size="30" font-style="italic" fill="#000">atp</text>
<text id="lipid" transform="translate(917.79,914.37) scale(0.9910,1.0216)" font-size="30" font-style="italic" fill="#000">lipid</text>
<text id="reduc_c" transform="translate(881.70,950.17) scale(1.0115,0.9983)" font-size="30" font-style="italic" fill="#000">reduction</text>
<text id="td_1140" transform="translate(1143.76,1346.00) scale(0.9803,1.0429)" font-size="28" fill="#000">1140</text>
<text id="td_1040" transform="translate(1293.39,1346.00) scale(0.9803,1.0429)" font-size="28" fill="#000">1040</text>
<text id="td_940" transform="translate(1452.87,1346.00) scale(0.9803,1.0429)" font-size="28" fill="#000">940</text>
<text id="xlab_d" transform="translate(1151.00,1388.00) scale(1.0204,1.0000)" font-size="30" fill="#000">Wavenumbers (cm<tspan font-size="18" dy="-11">-1</tspan><tspan dy="11">)</tspan></text>
<text id="glycogen" transform="translate(1149.40,931.35) scale(1.0076,0.9764)" font-size="30" font-style="italic" fill="#000">glycogen</text>
<text id="reduc_d" transform="translate(1148.30,967.48) scale(0.9960,0.9296)" font-size="30" font-style="italic" fill="#000">reduction</text>
<text id="n1148" transform="translate(994.60,1052.00) scale(1.0399,0.9053)" font-size="29" font-style="italic" fill="#000">1148 cm<tspan font-size="17" dy="-11">-1</tspan></text>
<text id="coh" transform="translate(969.55,1088.49) scale(1.0453,0.9790)" font-size="29" font-style="italic" fill="#000">COH and CC</text>
<text id="glycosidc" transform="translate(944.00,1126.23) scale(1.0509,0.9611)" font-size="29" font-style="italic" fill="#000">glycosidc linkage</text>
</svg>
</body></html>
